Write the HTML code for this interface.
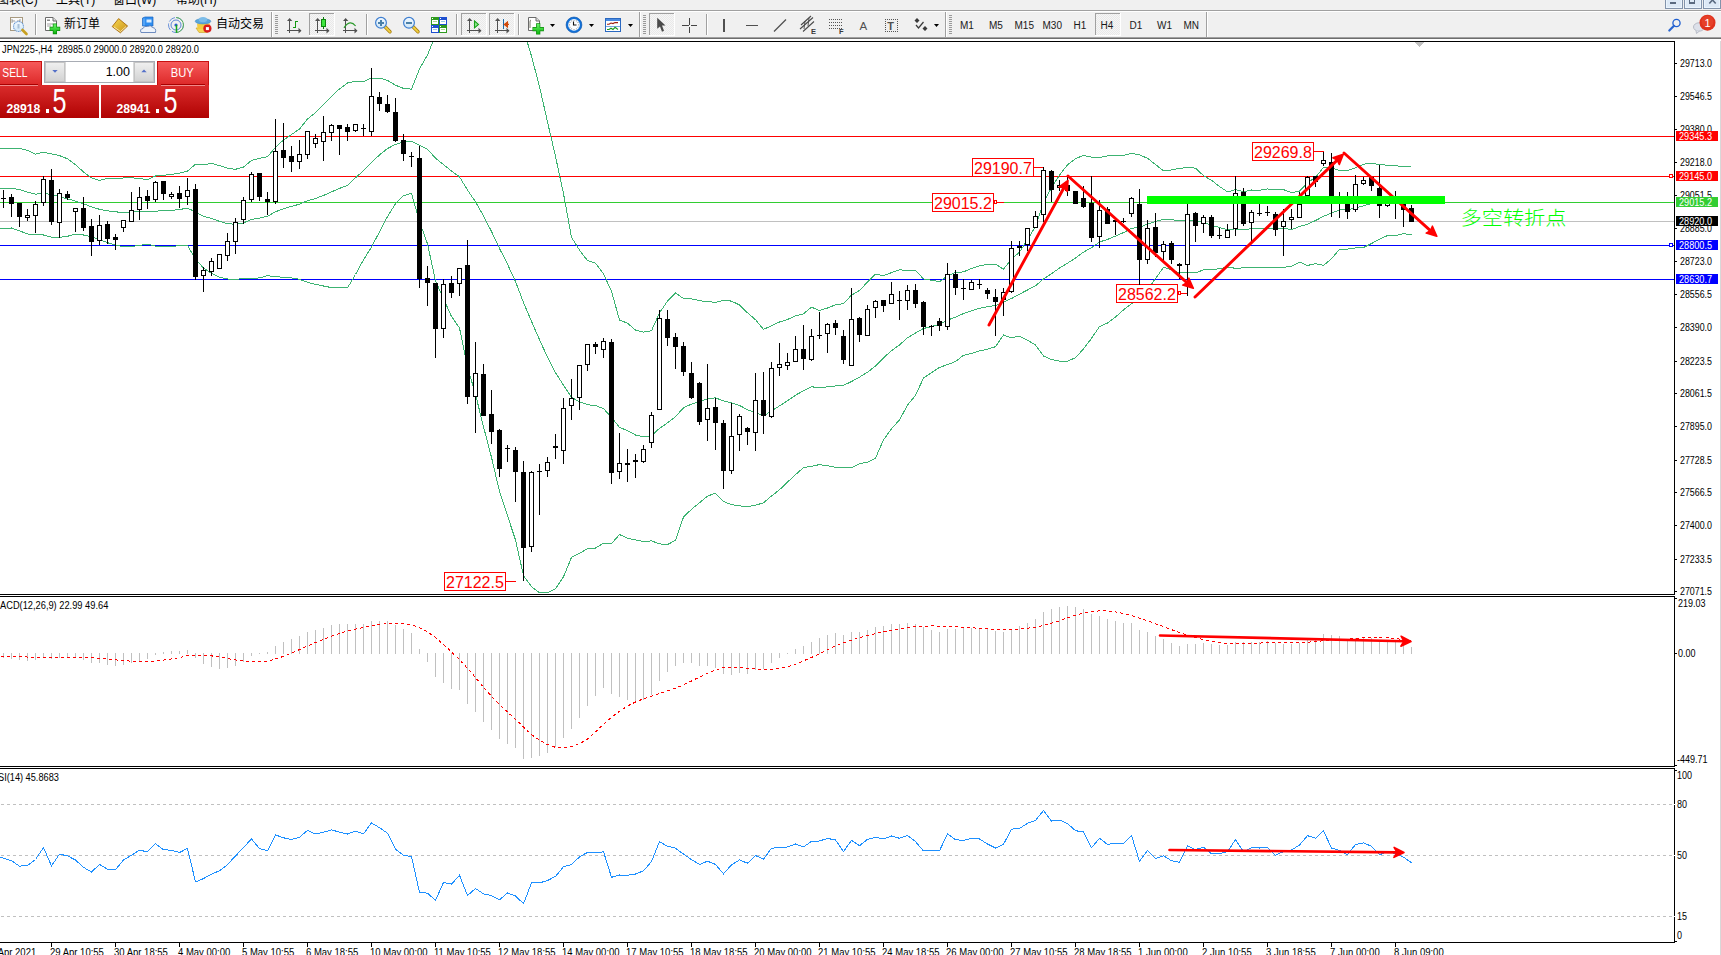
<!DOCTYPE html>
<html><head><meta charset="utf-8"><title>MT4 JPN225 H4</title>
<style>
html,body{margin:0;padding:0;width:1721px;height:955px;overflow:hidden;background:#f0f0f0;}
svg{display:block;font-family:'Liberation Sans', 'Noto Sans CJK SC', sans-serif;}
</style></head>
<body>
<svg width="1721" height="955" viewBox="0 0 1721 955" shape-rendering="crispEdges">
<rect x="0" y="0" width="1721" height="41" fill="#f0f0f0"/>
<text x="-3" y="4.2" font-size="12" fill="#000">图表(C)</text>
<text x="56" y="4.2" font-size="12" fill="#000">工具(T)</text>
<text x="113" y="4.2" font-size="12" fill="#000">窗口(W)</text>
<text x="176" y="4.2" font-size="12" fill="#000">帮助(H)</text>
<rect x="1665.5" y="-3.5" width="17" height="12" fill="#dde9f6" stroke="#8293ab"/><rect x="1666.5" y="-2.5" width="15" height="10" fill="none" stroke="#eef6ff" stroke-width="0.8"/>
<rect x="1684.5" y="-3.5" width="17" height="12" fill="#dde9f6" stroke="#8293ab"/><rect x="1685.5" y="-2.5" width="15" height="10" fill="none" stroke="#eef6ff" stroke-width="0.8"/>
<rect x="1703.5" y="-3.5" width="17" height="12" fill="#dde9f6" stroke="#8293ab"/><rect x="1704.5" y="-2.5" width="15" height="10" fill="none" stroke="#eef6ff" stroke-width="0.8"/>
<rect x="1670" y="2" width="6" height="2" fill="#5a6a80"/>
<rect x="1689.5" y="-1.5" width="5" height="4.5" fill="none" stroke="#5a6a80" stroke-width="1.3"/><rect x="1696" y="-1" width="1" height="1" fill="#5a6a80"/>
<path d="M1709.3 3.5 L1712.5 0 L1715.7 3.5" stroke="#5a6a80" stroke-width="1.6" fill="none" shape-rendering="auto"/>
<rect x="0" y="10" width="1721" height="1" fill="#a0a0a0"/>
<rect x="0" y="11" width="1721" height="1" fill="#ffffff"/>
<rect x="0" y="37" width="1721" height="1" fill="#a0a0a0"/>
<rect x="0" y="38" width="1721" height="1" fill="#6d6d6d"/>
<rect x="0" y="39" width="1721" height="2" fill="#ffffff"/>
<defs><pattern id="chk" width="2" height="2" patternUnits="userSpaceOnUse"><rect width="2" height="2" fill="#f6f6f6"/><rect width="1" height="1" fill="#e9e9e9"/><rect x="1" y="1" width="1" height="1" fill="#e9e9e9"/></pattern><linearGradient id="gmag" x1="0" y1="0" x2="0" y2="1"><stop offset="0" stop-color="#f2f9ff"/><stop offset="1" stop-color="#cfe6f7"/></linearGradient><linearGradient id="ggold" x1="0" y1="0" x2="1" y2="1"><stop offset="0" stop-color="#f8d850"/><stop offset="1" stop-color="#c89018"/></linearGradient><linearGradient id="gplus" x1="0" y1="0" x2="0" y2="1"><stop offset="0" stop-color="#6af56a"/><stop offset="1" stop-color="#0cb40c"/></linearGradient></defs>
<g shape-rendering="auto"><rect x="10.5" y="17.5" width="12" height="13" fill="#fbfbfb" stroke="#a89a80"/><path d="M12 19 V23 M12 21 H15 M20 19 V23 M17 21 H20" stroke="#888" stroke-width="0.8"/><circle cx="18.5" cy="26.5" r="5" fill="url(#gmag)" stroke="#6d9bd3" stroke-width="1.1" stroke-dasharray="1.2 0.6"/><rect x="17.5" y="24" width="2" height="4.5" fill="#a8c0d8"/><path d="M22.5 30 L26.5 34" stroke="#c8a020" stroke-width="2.6" stroke-linecap="round"/><path d="M45.5 17.5 H53 L56.5 21 V30.5 H45.5 Z" fill="#fff" stroke="#6a6a6a"/><path d="M53 17.5 V21 H56.5" fill="#ddd" stroke="#6a6a6a"/><rect x="47" y="19.5" width="3" height="1.5" fill="#888"/><path d="M47 24 H53 M47 26 H51" stroke="#999" stroke-width="0.9"/><path d="M54.9 23.6 V34.2 M49.6 28.9 H60.2" stroke="#0a8a0a" stroke-width="4.2"/><path d="M54.9 24.2 V33.6 M50.2 28.9 H59.6" stroke="url(#gplus)" stroke-width="2.8"/><path d="M112.2 26.6 L118.6 18.6 L127.6 26 L120.4 32.8 Z" fill="url(#ggold)" stroke="#a86c10" stroke-width="0.9"/><path d="M114 27 L120.5 31.5 L126 26.5" fill="none" stroke="#fff3c0" stroke-width="0.8"/><path d="M142.5 18 L145 17 H153 V26 H142.5 Z" fill="#2f8ef0" stroke="#1a64c0" stroke-width="0.7"/><rect x="146.5" y="19.5" width="5" height="3" fill="#d8ecff"/><path d="M144 18.5 V25.5" stroke="#8cc4ff" stroke-width="0.8"/><path d="M141 32.5 Q139.5 29 143 28.5 Q144 25.5 147.5 26.5 Q150.5 24.5 152.5 27.5 Q156.5 28 155.5 32.5 Z" fill="#eef3fa" stroke="#5d7fb8" stroke-width="0.9"/><circle cx="176" cy="25" r="7.5" fill="none" stroke="#5a86d6" stroke-width="0.9" stroke-dasharray="7 2"/><circle cx="176" cy="25" r="5" fill="none" stroke="#4a7ad0" stroke-width="0.9"/><path d="M176 17.5 A7.5 7.5 0 0 1 176 32.5" fill="none" stroke="#58b058" stroke-width="1"/><circle cx="176" cy="25" r="1.6" fill="#2a5ed0"/><path d="M176.5 25 V32.8" stroke="#18a818" stroke-width="1.5"/><path d="M196 28 L210 28 L207 32.5 L199 32.5 Z" fill="#f6d454" stroke="#c8a020" stroke-width="0.6"/><path d="M197 23.5 L210 23.5 L209.5 29 L197.5 29 Z" fill="#f2cc40"/><ellipse cx="203" cy="21.3" rx="7.8" ry="2.6" fill="#5aa6dc" stroke="#3a86c0" stroke-width="0.6"/><ellipse cx="203" cy="19.6" rx="4.2" ry="2.6" fill="#7cbce8"/><circle cx="207.4" cy="28.6" r="4.1" fill="#d81c1c"/><rect x="205.9" y="27.1" width="3" height="3" fill="#fff"/></g>
<text x="64" y="28" font-size="12" font-family="'Liberation Sans', 'Noto Sans CJK SC', sans-serif" fill="#000">新订单</text>
<text x="216" y="28" font-size="12" font-family="'Liberation Sans', 'Noto Sans CJK SC', sans-serif" fill="#000">自动交易</text>
<rect x="35" y="14" width="1" height="21" fill="#a0a0a0"/>
<rect x="36" y="14" width="1" height="21" fill="#ffffff"/>
<rect x="271" y="12" width="1" height="25" fill="#a0a0a0"/>
<rect x="272" y="12" width="1" height="25" fill="#ffffff"/>
<rect x="275" y="15" width="3" height="1" fill="#9a9a9a"/>
<rect x="275" y="17" width="3" height="1" fill="#9a9a9a"/>
<rect x="275" y="19" width="3" height="1" fill="#9a9a9a"/>
<rect x="275" y="21" width="3" height="1" fill="#9a9a9a"/>
<rect x="275" y="23" width="3" height="1" fill="#9a9a9a"/>
<rect x="275" y="25" width="3" height="1" fill="#9a9a9a"/>
<rect x="275" y="27" width="3" height="1" fill="#9a9a9a"/>
<rect x="275" y="29" width="3" height="1" fill="#9a9a9a"/>
<rect x="275" y="31" width="3" height="1" fill="#9a9a9a"/>
<rect x="275" y="33" width="3" height="1" fill="#9a9a9a"/>
<g fill="#505050"><rect x="289" y="19" width="1.3" height="14"/><rect x="287" y="30" width="14" height="1.3"/><path d="M287 21 L289.65 18 L292.3 21 Z M298.5 27.7 L301.5 30.65 L298.5 33.6 Z" shape-rendering="auto"/></g>
<path d="M293 27.5 H295.5 V20.5 M295.5 21.5 H298" stroke="#139a13" stroke-width="1.3" fill="none"/>
<rect x="309" y="13" width="25" height="22" fill="url(#chk)"/>
<rect x="309" y="13" width="25" height="1" fill="#a0a0a0"/>
<rect x="309" y="13" width="1" height="22" fill="#a0a0a0"/>
<rect x="309" y="35" width="25" height="1" fill="#ffffff"/>
<rect x="334" y="13" width="1" height="23" fill="#ffffff"/>
<g fill="#505050"><rect x="317" y="19" width="1.3" height="14"/><rect x="315" y="30" width="14" height="1.3"/><path d="M315 21 L317.65 18 L320.3 21 Z M326.5 27.7 L329.5 30.65 L326.5 33.6 Z" shape-rendering="auto"/></g>
<rect x="323" y="17" width="1" height="12" fill="#0a7a0a"/><rect x="321.3" y="19.2" width="4.4" height="7.5" fill="#3ee63e" stroke="#0a7a0a" stroke-width="0.9"/>
<g fill="#505050"><rect x="345" y="19" width="1.3" height="14"/><rect x="343" y="30" width="14" height="1.3"/><path d="M343 21 L345.65 18 L348.3 21 Z M354.5 27.7 L357.5 30.65 L354.5 33.6 Z" shape-rendering="auto"/></g>
<path d="M344 27.8 Q350 19 355.6 26" stroke="#2a9a2a" stroke-width="1.2" fill="none" shape-rendering="auto"/>
<rect x="366" y="14" width="1" height="21" fill="#a0a0a0"/>
<rect x="367" y="14" width="1" height="21" fill="#ffffff"/>
<g shape-rendering="auto"><path d="M384.8 26.5 L390 31.8" stroke="#a87c10" stroke-width="3.4" stroke-linecap="round"/><path d="M384.8 26.5 L390 31.8" stroke="#f0d040" stroke-width="1.8" stroke-linecap="round"/><circle cx="381" cy="22.8" r="5.4" fill="url(#gmag)" stroke="#3f7fd0" stroke-width="1.2"/></g>
<rect x="378" y="22" width="6" height="2" fill="#4a80a8"/>
<rect x="380" y="20" width="2" height="6" fill="#4a80a8"/>
<g shape-rendering="auto"><path d="M412.8 26.5 L418 31.8" stroke="#a87c10" stroke-width="3.4" stroke-linecap="round"/><path d="M412.8 26.5 L418 31.8" stroke="#f0d040" stroke-width="1.8" stroke-linecap="round"/><circle cx="409" cy="22.8" r="5.4" fill="url(#gmag)" stroke="#3f7fd0" stroke-width="1.2"/></g>
<rect x="406" y="22" width="6" height="2" fill="#4a80a8"/>
<rect x="431" y="17" width="8" height="8" fill="#2e9a1e"/>
<rect x="432" y="20" width="6" height="4" fill="#ffffff"/>
<rect x="432" y="18" width="1" height="1" fill="#ffffff"/>
<rect x="433" y="21" width="4" height="1" fill="#a8d890"/>
<rect x="439" y="17" width="8" height="8" fill="#1e4fd0"/>
<rect x="440" y="20" width="6" height="4" fill="#ffffff"/>
<rect x="440" y="18" width="1" height="1" fill="#ffffff"/>
<rect x="441" y="21" width="4" height="1" fill="#9ac8e8"/>
<rect x="431" y="25" width="8" height="8" fill="#1e4fd0"/>
<rect x="432" y="28" width="6" height="4" fill="#ffffff"/>
<rect x="432" y="26" width="1" height="1" fill="#ffffff"/>
<rect x="433" y="29" width="4" height="1" fill="#9ac8e8"/>
<rect x="439" y="25" width="8" height="8" fill="#2e9a1e"/>
<rect x="440" y="28" width="6" height="4" fill="#ffffff"/>
<rect x="440" y="26" width="1" height="1" fill="#ffffff"/>
<rect x="441" y="29" width="4" height="1" fill="#a8d890"/>
<rect x="456" y="14" width="1" height="21" fill="#a0a0a0"/>
<rect x="457" y="14" width="1" height="21" fill="#ffffff"/>
<rect x="461" y="13" width="25" height="22" fill="url(#chk)"/>
<rect x="461" y="13" width="25" height="1" fill="#a0a0a0"/>
<rect x="461" y="13" width="1" height="22" fill="#a0a0a0"/>
<rect x="461" y="35" width="25" height="1" fill="#ffffff"/>
<rect x="486" y="13" width="1" height="23" fill="#ffffff"/>
<g fill="#505050"><rect x="469" y="19" width="1.3" height="14"/><rect x="467" y="30" width="14" height="1.3"/><path d="M467 21 L469.65 18 L472.3 21 Z M478.5 27.7 L481.5 30.65 L478.5 33.6 Z" shape-rendering="auto"/></g>
<path d="M474.5 21 L478.5 24.4 L474.5 27.8 Z" fill="#8ce88c" stroke="#18a018" stroke-width="1.1" shape-rendering="auto"/>
<rect x="489" y="13" width="25" height="22" fill="url(#chk)"/>
<rect x="489" y="13" width="25" height="1" fill="#a0a0a0"/>
<rect x="489" y="13" width="1" height="22" fill="#a0a0a0"/>
<rect x="489" y="35" width="25" height="1" fill="#ffffff"/>
<rect x="514" y="13" width="1" height="23" fill="#ffffff"/>
<g fill="#505050"><rect x="497" y="19" width="1.3" height="14"/><rect x="495" y="30" width="14" height="1.3"/><path d="M495 21 L497.65 18 L500.3 21 Z M506.5 27.7 L509.5 30.65 L506.5 33.6 Z" shape-rendering="auto"/></g>
<rect x="503" y="19" width="1.4" height="10" fill="#1a6aa8"/>
<path d="M509 24.4 H506 M504.4 24.4 L507.4 22 L507.4 26.8 Z" stroke="#d04808" stroke-width="1.3" fill="#e05010" shape-rendering="auto"/>
<rect x="518" y="14" width="1" height="21" fill="#a0a0a0"/>
<rect x="519" y="14" width="1" height="21" fill="#ffffff"/>
<g shape-rendering="auto"><path d="M528.5 17.5 H536 L539.5 21 V30.5 H528.5 Z" fill="#fff" stroke="#6a6a6a"/><path d="M536 17.5 V21 H539.5" fill="#ddd" stroke="#6a6a6a"/><path d="M531 20 Q530 20 530 22 V28" stroke="#665" stroke-width="0.9" fill="none"/><path d="M538.2 23.3 V34.6 M532.5 29.1 H543.9" stroke="#0a8a0a" stroke-width="4.2"/><path d="M538.2 23.9 V34 M533.1 29.1 H543.3" stroke="url(#gplus)" stroke-width="2.8"/></g>
<path d="M550 24 H555 L552.5 27 Z" fill="#000" shape-rendering="auto"/>
<g shape-rendering="auto"><circle cx="574" cy="24.9" r="6.9" fill="#fbfdff" stroke="#1070d8" stroke-width="2.1"/><circle cx="574" cy="24.9" r="7.9" fill="none" stroke="#0850a8" stroke-width="0.6"/><path d="M573.5 21.5 V25 H576.5" stroke="#111" stroke-width="1.1" fill="none"/></g>
<rect x="578.2" y="24.5" width="0.8" height="0.8" fill="#666" shape-rendering="auto"/>
<rect x="577.6" y="26.8" width="0.8" height="0.8" fill="#666" shape-rendering="auto"/>
<rect x="575.9" y="28.5" width="0.8" height="0.8" fill="#666" shape-rendering="auto"/>
<rect x="573.6" y="29.1" width="0.8" height="0.8" fill="#666" shape-rendering="auto"/>
<rect x="571.3" y="28.5" width="0.8" height="0.8" fill="#666" shape-rendering="auto"/>
<rect x="569.6" y="26.8" width="0.8" height="0.8" fill="#666" shape-rendering="auto"/>
<rect x="569.0" y="24.5" width="0.8" height="0.8" fill="#666" shape-rendering="auto"/>
<rect x="569.6" y="22.2" width="0.8" height="0.8" fill="#666" shape-rendering="auto"/>
<rect x="571.3" y="20.5" width="0.8" height="0.8" fill="#666" shape-rendering="auto"/>
<rect x="573.6" y="19.9" width="0.8" height="0.8" fill="#666" shape-rendering="auto"/>
<rect x="575.9" y="20.5" width="0.8" height="0.8" fill="#666" shape-rendering="auto"/>
<rect x="577.6" y="22.2" width="0.8" height="0.8" fill="#666" shape-rendering="auto"/>
<path d="M589 24 H594 L591.5 27 Z" fill="#000" shape-rendering="auto"/>
<rect x="605.5" y="18.5" width="15" height="13" fill="#fff" stroke="#2a68c0"/><rect x="606" y="19" width="14" height="2" fill="#4a8ae0"/><rect x="606" y="26" width="14" height="1" fill="#7aa8e0"/><g shape-rendering="auto"><path d="M607 24.3 L609 24.3 L611 23 L613 23.6 L615 22.6 L618 22.6" stroke="#a02010" stroke-width="1.1" fill="none"/><path d="M607 29.5 L609 29.5 L611 28.2 L613 29.5 L615 27.3 L618 29.5" stroke="#18981a" stroke-width="1.1" fill="none"/></g>
<path d="M628 24 H633 L630.5 27 Z" fill="#000" shape-rendering="auto"/>
<rect x="639" y="12" width="1" height="25" fill="#a0a0a0"/>
<rect x="640" y="12" width="1" height="25" fill="#ffffff"/>
<rect x="643" y="15" width="3" height="1" fill="#9a9a9a"/>
<rect x="643" y="17" width="3" height="1" fill="#9a9a9a"/>
<rect x="643" y="19" width="3" height="1" fill="#9a9a9a"/>
<rect x="643" y="21" width="3" height="1" fill="#9a9a9a"/>
<rect x="643" y="23" width="3" height="1" fill="#9a9a9a"/>
<rect x="643" y="25" width="3" height="1" fill="#9a9a9a"/>
<rect x="643" y="27" width="3" height="1" fill="#9a9a9a"/>
<rect x="643" y="29" width="3" height="1" fill="#9a9a9a"/>
<rect x="643" y="31" width="3" height="1" fill="#9a9a9a"/>
<rect x="643" y="33" width="3" height="1" fill="#9a9a9a"/>
<rect x="649" y="13" width="25" height="22" fill="url(#chk)"/>
<rect x="649" y="13" width="25" height="1" fill="#a0a0a0"/>
<rect x="649" y="13" width="1" height="22" fill="#a0a0a0"/>
<rect x="649" y="35" width="25" height="1" fill="#ffffff"/>
<rect x="674" y="13" width="1" height="23" fill="#ffffff"/>
<path d="M657.2 17.8 V28.8 L660 26.4 L662 31.7 L664 30.8 L662 25.6 L665.5 25.4 Z" fill="#4a4a4a" shape-rendering="auto"/>
<rect x="689" y="18" width="1.3" height="6.5" fill="#444"/>
<rect x="689" y="26.5" width="1.3" height="6.5" fill="#444"/>
<rect x="682" y="24.8" width="6.5" height="1.3" fill="#444"/>
<rect x="690.5" y="24.8" width="6.5" height="1.3" fill="#444"/>
<rect x="706" y="14" width="1" height="21" fill="#a0a0a0"/>
<rect x="707" y="14" width="1" height="21" fill="#ffffff"/>
<rect x="723" y="19" width="1.5" height="13" fill="#505050"/>
<rect x="746" y="25" width="12" height="1.3" fill="#505050"/>
<path d="M774 31.5 L786 19.5" stroke="#505050" stroke-width="1.3" shape-rendering="auto"/>
<g shape-rendering="auto" stroke="#4a4a4a" stroke-width="1.1"><path d="M800 29 L813 17.5 M801 25 L811 16 M803 31.5 L814 21.5"/><path d="M805 21 L804 29 M809 18 L808 26" stroke-width="0.9"/></g>
<text x="811" y="34" font-size="7.5" font-weight="bold" font-family="'Liberation Sans', 'Noto Sans CJK SC', sans-serif" fill="#3a3a3a">E</text>
<rect x="829" y="19" width="1" height="1" fill="#555"/>
<rect x="831" y="19" width="1" height="1" fill="#555"/>
<rect x="833" y="19" width="1" height="1" fill="#555"/>
<rect x="835" y="19" width="1" height="1" fill="#555"/>
<rect x="837" y="19" width="1" height="1" fill="#555"/>
<rect x="839" y="19" width="1" height="1" fill="#555"/>
<rect x="841" y="19" width="1" height="1" fill="#555"/>
<rect x="829" y="22" width="1" height="1" fill="#555"/>
<rect x="831" y="22" width="1" height="1" fill="#555"/>
<rect x="833" y="22" width="1" height="1" fill="#555"/>
<rect x="835" y="22" width="1" height="1" fill="#555"/>
<rect x="837" y="22" width="1" height="1" fill="#555"/>
<rect x="839" y="22" width="1" height="1" fill="#555"/>
<rect x="841" y="22" width="1" height="1" fill="#555"/>
<rect x="829" y="25" width="1" height="1" fill="#555"/>
<rect x="831" y="25" width="1" height="1" fill="#555"/>
<rect x="833" y="25" width="1" height="1" fill="#555"/>
<rect x="835" y="25" width="1" height="1" fill="#555"/>
<rect x="837" y="25" width="1" height="1" fill="#555"/>
<rect x="839" y="25" width="1" height="1" fill="#555"/>
<rect x="841" y="25" width="1" height="1" fill="#555"/>
<rect x="829" y="28" width="1" height="1" fill="#555"/>
<rect x="831" y="28" width="1" height="1" fill="#555"/>
<rect x="833" y="28" width="1" height="1" fill="#555"/>
<rect x="835" y="28" width="1" height="1" fill="#555"/>
<rect x="837" y="28" width="1" height="1" fill="#555"/>
<rect x="839" y="28" width="1" height="1" fill="#555"/>
<rect x="841" y="28" width="1" height="1" fill="#555"/>
<text x="839" y="34" font-size="7.5" font-weight="bold" font-family="'Liberation Sans', 'Noto Sans CJK SC', sans-serif" fill="#3a3a3a">F</text>
<text x="859.5" y="29.5" font-size="11.5" font-family="'Liberation Sans', 'Noto Sans CJK SC', sans-serif" fill="#505050">A</text>
<rect x="885" y="19" width="1" height="1" fill="#555"/>
<rect x="885" y="31" width="1" height="1" fill="#555"/>
<rect x="887" y="19" width="1" height="1" fill="#555"/>
<rect x="887" y="31" width="1" height="1" fill="#555"/>
<rect x="889" y="19" width="1" height="1" fill="#555"/>
<rect x="889" y="31" width="1" height="1" fill="#555"/>
<rect x="891" y="19" width="1" height="1" fill="#555"/>
<rect x="891" y="31" width="1" height="1" fill="#555"/>
<rect x="893" y="19" width="1" height="1" fill="#555"/>
<rect x="893" y="31" width="1" height="1" fill="#555"/>
<rect x="895" y="19" width="1" height="1" fill="#555"/>
<rect x="895" y="31" width="1" height="1" fill="#555"/>
<rect x="897" y="19" width="1" height="1" fill="#555"/>
<rect x="897" y="31" width="1" height="1" fill="#555"/>
<rect x="885" y="19" width="1" height="1" fill="#555"/>
<rect x="897" y="19" width="1" height="1" fill="#555"/>
<rect x="885" y="21" width="1" height="1" fill="#555"/>
<rect x="897" y="21" width="1" height="1" fill="#555"/>
<rect x="885" y="23" width="1" height="1" fill="#555"/>
<rect x="897" y="23" width="1" height="1" fill="#555"/>
<rect x="885" y="25" width="1" height="1" fill="#555"/>
<rect x="897" y="25" width="1" height="1" fill="#555"/>
<rect x="885" y="27" width="1" height="1" fill="#555"/>
<rect x="897" y="27" width="1" height="1" fill="#555"/>
<rect x="885" y="29" width="1" height="1" fill="#555"/>
<rect x="897" y="29" width="1" height="1" fill="#555"/>
<rect x="885" y="31" width="1" height="1" fill="#555"/>
<rect x="897" y="31" width="1" height="1" fill="#555"/>
<text x="887.3" y="29.8" font-size="11" font-weight="bold" font-family="'Liberation Sans', 'Noto Sans CJK SC', sans-serif" fill="#505050">T</text>
<g shape-rendering="auto"><path d="M914.5 20.5 L917 18 L919.5 20.5 L917 23 Z M922.5 28.5 L925 26 L927.5 28.5 L925 31 Z" fill="#3a3a3a"/><path d="M916 25 L918.5 28 L923.5 22" stroke="#3a3a3a" stroke-width="1.2" fill="none"/></g>
<path d="M934 24 H939 L936.5 27 Z" fill="#000" shape-rendering="auto"/>
<rect x="945" y="12" width="1" height="25" fill="#a0a0a0"/>
<rect x="946" y="12" width="1" height="25" fill="#ffffff"/>
<rect x="949" y="15" width="3" height="1" fill="#9a9a9a"/>
<rect x="949" y="17" width="3" height="1" fill="#9a9a9a"/>
<rect x="949" y="19" width="3" height="1" fill="#9a9a9a"/>
<rect x="949" y="21" width="3" height="1" fill="#9a9a9a"/>
<rect x="949" y="23" width="3" height="1" fill="#9a9a9a"/>
<rect x="949" y="25" width="3" height="1" fill="#9a9a9a"/>
<rect x="949" y="27" width="3" height="1" fill="#9a9a9a"/>
<rect x="949" y="29" width="3" height="1" fill="#9a9a9a"/>
<rect x="949" y="31" width="3" height="1" fill="#9a9a9a"/>
<rect x="949" y="33" width="3" height="1" fill="#9a9a9a"/>
<rect x="1095" y="13" width="25" height="22" fill="url(#chk)"/>
<rect x="1095" y="13" width="25" height="1" fill="#a0a0a0"/>
<rect x="1095" y="13" width="1" height="22" fill="#a0a0a0"/>
<rect x="1095" y="35" width="25" height="1" fill="#ffffff"/>
<rect x="1120" y="13" width="1" height="23" fill="#ffffff"/>
<text x="960" y="29" font-size="10" font-family="'Liberation Sans', 'Noto Sans CJK SC', sans-serif" fill="#1a1a1a">M1</text>
<text x="989" y="29" font-size="10" font-family="'Liberation Sans', 'Noto Sans CJK SC', sans-serif" fill="#1a1a1a">M5</text>
<text x="1014.5" y="29" font-size="10" font-family="'Liberation Sans', 'Noto Sans CJK SC', sans-serif" fill="#1a1a1a">M15</text>
<text x="1042.5" y="29" font-size="10" font-family="'Liberation Sans', 'Noto Sans CJK SC', sans-serif" fill="#1a1a1a">M30</text>
<text x="1073.5" y="29" font-size="10" font-family="'Liberation Sans', 'Noto Sans CJK SC', sans-serif" fill="#1a1a1a">H1</text>
<text x="1100.5" y="29" font-size="10" font-family="'Liberation Sans', 'Noto Sans CJK SC', sans-serif" fill="#1a1a1a">H4</text>
<text x="1129.5" y="29" font-size="10" font-family="'Liberation Sans', 'Noto Sans CJK SC', sans-serif" fill="#1a1a1a">D1</text>
<text x="1157" y="29" font-size="10" font-family="'Liberation Sans', 'Noto Sans CJK SC', sans-serif" fill="#1a1a1a">W1</text>
<text x="1183.5" y="29" font-size="10" font-family="'Liberation Sans', 'Noto Sans CJK SC', sans-serif" fill="#1a1a1a">MN</text>
<rect x="1206" y="12" width="1" height="25" fill="#a0a0a0"/>
<rect x="1207" y="12" width="1" height="25" fill="#ffffff"/>
<g shape-rendering="auto"><circle cx="1676.5" cy="23" r="3.6" fill="none" stroke="#1f5fd0" stroke-width="1.3"/><path d="M1674 25.8 L1669.3 30.5" stroke="#2a66d0" stroke-width="2.2" stroke-linecap="round"/><ellipse cx="1699" cy="27" rx="5.5" ry="4.2" fill="#dde1ea" stroke="#b8bcc6"/><path d="M1696 30.5 L1696.5 33.5 L1699.5 31" fill="#dde1ea" stroke="#b8bcc6"/><circle cx="1707.5" cy="22.7" r="8" fill="#e0321c"/><circle cx="1707.5" cy="21.5" r="6" fill="#ea4a30" opacity="0.6"/></g>
<text x="1704.5" y="27.2" font-size="11" font-family="'Liberation Sans', 'Noto Sans CJK SC', sans-serif" fill="#fff">1</text>
<rect x="0" y="41" width="1720" height="914" fill="#ffffff"/>
<rect x="1720" y="41" width="1" height="914" fill="#d8d8d8"/>
<defs><clipPath id="cm"><rect x="0" y="42" width="1674" height="552"/></clipPath><clipPath id="cd"><rect x="0" y="597" width="1674" height="169"/></clipPath><clipPath id="cr"><rect x="0" y="769" width="1674" height="173"/></clipPath></defs>
<rect x="0" y="136" width="1674" height="1" fill="#ff0000"/>
<rect x="0" y="176" width="1674" height="1" fill="#ff0000"/>
<rect x="1669.5" y="174.5" width="3" height="3" fill="#fff" stroke="#ff0000"/>
<rect x="0" y="202" width="1674" height="1" fill="#32cd32"/>
<rect x="0" y="221" width="1674" height="1" fill="#c0c0c0"/>
<rect x="0" y="245" width="1674" height="1" fill="#0000ff"/>
<rect x="1669.5" y="243.5" width="3" height="3" fill="#fff" stroke="#0000ff"/>
<rect x="0" y="279" width="1674" height="1" fill="#0000ff"/>
<polyline points="-4.5,148.5 3.5,148.5 11.5,148.5 19.5,148.5 27.5,150.3 35.5,154.1 43.5,152.3 51.5,153.9 59.5,155.6 67.5,158.8 75.5,164.8 83.5,171.9 91.5,177.9 99.5,180.4 107.5,178.3 115.5,178.2 123.5,178.0 131.5,177.8 139.5,178.5 147.5,179.6 155.5,176.0 163.5,175.4 171.5,174.3 179.5,173.2 187.5,171.1 195.5,164.3 203.5,164.9 211.5,163.4 219.5,165.6 227.5,168.2 235.5,169.3 243.5,167.0 251.5,160.5 259.5,158.3 267.5,156.8 275.5,147.1 283.5,140.0 291.5,134.6 299.5,129.0 307.5,119.0 315.5,112.7 323.5,104.8 331.5,96.3 339.5,88.9 347.5,83.0 355.5,81.2 363.5,81.7 371.5,78.0 379.5,78.0 387.5,80.4 395.5,85.2 403.5,88.4 411.5,89.1 419.5,68.9 427.5,54.9 435.5,35.6 443.5,30.2 451.5,25.7 459.5,25.6 467.5,12.9 475.5,9.5 483.5,5.3 491.5,5.4 499.5,5.3 507.5,12.5 515.5,23.1 523.5,29.5 531.5,56.1 539.5,86.7 547.5,121.9 555.5,156.5 563.5,193.7 571.5,237.3 579.5,250.1 587.5,260.6 595.5,263.3 603.5,273.9 611.5,291.3 619.5,320.0 627.5,323.2 635.5,330.1 643.5,332.1 651.5,330.8 659.5,312.8 667.5,301.2 675.5,292.8 683.5,298.6 691.5,298.9 699.5,300.6 707.5,301.7 715.5,302.3 723.5,300.3 731.5,301.1 739.5,305.0 747.5,312.8 755.5,319.7 763.5,329.4 771.5,325.7 779.5,322.0 787.5,319.5 795.5,315.8 803.5,313.8 811.5,307.2 819.5,310.6 827.5,308.0 835.5,304.8 843.5,303.6 851.5,295.1 859.5,290.5 867.5,282.0 875.5,274.1 883.5,275.7 891.5,272.6 899.5,269.8 907.5,270.5 915.5,270.5 923.5,278.9 931.5,280.2 939.5,281.7 947.5,275.7 955.5,272.5 963.5,271.9 971.5,268.4 979.5,265.8 987.5,264.4 995.5,264.2 1003.5,269.2 1011.5,259.2 1019.5,252.1 1027.5,239.7 1035.5,226.5 1043.5,202.0 1051.5,187.9 1059.5,175.0 1067.5,164.9 1075.5,158.6 1083.5,155.4 1091.5,157.1 1099.5,157.4 1107.5,155.9 1115.5,155.1 1123.5,155.3 1131.5,153.3 1139.5,154.9 1147.5,158.3 1155.5,164.5 1163.5,170.9 1171.5,169.9 1179.5,168.3 1187.5,167.6 1195.5,168.1 1203.5,175.7 1211.5,180.3 1219.5,186.5 1227.5,191.9 1235.5,189.6 1243.5,191.8 1251.5,190.0 1259.5,190.3 1267.5,189.0 1275.5,189.7 1283.5,189.6 1291.5,192.6 1299.5,191.1 1307.5,182.6 1315.5,177.5 1323.5,167.2 1331.5,167.5 1339.5,170.7 1347.5,170.6 1355.5,167.7 1363.5,164.2 1371.5,163.3 1379.5,164.5 1387.5,165.2 1395.5,165.8 1403.5,166.5 1411.5,166.0" fill="none" stroke="#3cb371" stroke-width="1" clip-path="url(#cm)"/>
<polyline points="-4.5,188.1 3.5,188.1 11.5,188.1 19.5,189.6 27.5,192.1 35.5,194.2 43.5,193.4 51.5,194.5 59.5,196.8 67.5,198.8 75.5,201.1 83.5,203.8 91.5,206.8 99.5,209.3 107.5,210.8 115.5,211.8 123.5,212.6 131.5,212.0 139.5,211.9 147.5,211.7 155.5,211.1 163.5,210.8 171.5,210.4 179.5,209.5 187.5,208.2 195.5,211.9 203.5,216.4 211.5,218.4 219.5,221.4 227.5,223.6 235.5,224.3 243.5,222.9 251.5,219.5 259.5,218.1 267.5,216.2 275.5,211.8 283.5,208.7 291.5,206.3 299.5,204.2 307.5,200.7 315.5,198.5 323.5,195.4 331.5,191.9 339.5,188.4 347.5,185.5 355.5,177.8 363.5,170.7 371.5,162.5 379.5,154.9 387.5,148.5 395.5,144.4 403.5,142.1 411.5,141.2 419.5,145.3 427.5,149.3 435.5,158.2 443.5,164.5 451.5,171.1 459.5,176.8 467.5,190.1 475.5,201.8 483.5,216.0 491.5,231.4 499.5,248.4 507.5,264.2 515.5,281.5 523.5,302.6 531.5,321.4 539.5,339.7 547.5,357.3 555.5,372.6 563.5,385.2 571.5,397.4 579.5,401.7 587.5,404.7 595.5,405.6 603.5,408.5 611.5,417.5 619.5,427.3 627.5,430.7 635.5,435.0 643.5,436.7 651.5,435.9 659.5,428.3 667.5,422.9 675.5,416.6 683.5,407.8 691.5,404.1 699.5,401.6 707.5,398.9 715.5,397.8 723.5,400.9 731.5,402.8 739.5,405.4 747.5,409.7 755.5,412.4 763.5,416.1 771.5,410.9 779.5,405.9 787.5,400.8 795.5,395.2 803.5,390.7 811.5,386.8 819.5,387.6 827.5,386.9 835.5,386.0 843.5,385.4 851.5,381.5 859.5,377.1 867.5,372.2 875.5,366.1 883.5,357.8 891.5,350.7 899.5,344.9 907.5,337.8 915.5,333.0 923.5,328.5 931.5,326.5 939.5,324.5 947.5,320.1 955.5,317.1 963.5,313.6 971.5,310.9 979.5,308.3 987.5,306.8 995.5,305.5 1003.5,302.1 1011.5,298.5 1019.5,294.1 1027.5,290.0 1035.5,285.7 1043.5,279.0 1051.5,273.8 1059.5,268.0 1067.5,263.1 1075.5,258.1 1083.5,252.1 1091.5,247.7 1099.5,242.0 1107.5,239.4 1115.5,236.1 1123.5,232.6 1131.5,228.4 1139.5,227.3 1147.5,224.0 1155.5,221.6 1163.5,219.1 1171.5,219.7 1179.5,220.6 1187.5,220.0 1195.5,220.4 1203.5,222.8 1211.5,225.1 1219.5,227.6 1227.5,229.5 1235.5,228.9 1243.5,229.8 1251.5,228.6 1259.5,228.7 1267.5,228.1 1275.5,228.6 1283.5,228.5 1291.5,229.5 1299.5,226.6 1307.5,224.1 1315.5,220.6 1323.5,216.3 1331.5,213.1 1339.5,210.0 1347.5,209.8 1355.5,207.8 1363.5,205.9 1371.5,203.4 1379.5,201.9 1387.5,200.3 1395.5,200.8 1403.5,200.0 1411.5,200.5" fill="none" stroke="#3cb371" stroke-width="1" clip-path="url(#cm)"/>
<polyline points="-4.5,228.8 3.5,228.8 11.5,228.0 19.5,230.8 27.5,234.0 35.5,234.3 43.5,235.0 51.5,237.2 59.5,237.4 67.5,236.3 75.5,234.1 83.5,235.0 91.5,236.7 99.5,239.5 107.5,242.7 115.5,245.1 123.5,246.6 131.5,246.6 139.5,245.4 147.5,244.3 155.5,246.1 163.5,246.3 171.5,246.4 179.5,245.7 187.5,245.3 195.5,259.5 203.5,267.9 211.5,273.4 219.5,277.3 227.5,279.0 235.5,279.2 243.5,278.8 251.5,278.6 259.5,277.9 267.5,275.7 275.5,276.6 283.5,277.4 291.5,278.0 299.5,279.3 307.5,282.3 315.5,284.3 323.5,286.0 331.5,287.6 339.5,287.9 347.5,287.9 355.5,274.5 363.5,259.8 371.5,247.0 379.5,231.9 387.5,216.5 395.5,203.7 403.5,195.8 411.5,193.2 419.5,221.7 427.5,243.8 435.5,280.8 443.5,298.8 451.5,316.5 459.5,327.9 467.5,367.3 475.5,394.2 483.5,426.7 491.5,457.4 499.5,491.5 507.5,515.8 515.5,540.0 523.5,575.6 531.5,586.6 539.5,592.8 547.5,592.7 555.5,588.6 563.5,576.8 571.5,557.4 579.5,553.2 587.5,548.8 595.5,548.0 603.5,543.1 611.5,543.7 619.5,534.5 627.5,538.2 635.5,539.9 643.5,541.4 651.5,540.9 659.5,543.9 667.5,544.5 675.5,540.4 683.5,517.0 691.5,509.3 699.5,502.7 707.5,496.1 715.5,493.2 723.5,501.5 731.5,504.6 739.5,505.8 747.5,506.7 755.5,505.1 763.5,502.9 771.5,496.0 779.5,489.8 787.5,482.1 795.5,474.7 803.5,467.6 811.5,466.3 819.5,464.6 827.5,465.8 835.5,467.2 843.5,467.1 851.5,467.8 859.5,463.7 867.5,462.3 875.5,458.1 883.5,439.9 891.5,428.8 899.5,419.9 907.5,405.1 915.5,395.4 923.5,378.1 931.5,372.7 939.5,367.4 947.5,364.6 955.5,361.6 963.5,355.3 971.5,353.4 979.5,350.9 987.5,349.2 995.5,346.7 1003.5,335.0 1011.5,337.9 1019.5,336.1 1027.5,340.3 1035.5,345.0 1043.5,356.0 1051.5,359.6 1059.5,361.1 1067.5,361.3 1075.5,357.7 1083.5,348.9 1091.5,338.4 1099.5,326.5 1107.5,323.0 1115.5,317.0 1123.5,309.9 1131.5,303.6 1139.5,299.6 1147.5,289.7 1155.5,278.6 1163.5,267.4 1171.5,269.6 1179.5,273.0 1187.5,272.3 1195.5,272.8 1203.5,269.9 1211.5,269.9 1219.5,268.7 1227.5,267.1 1235.5,268.3 1243.5,267.9 1251.5,267.2 1259.5,267.1 1267.5,267.1 1275.5,267.4 1283.5,267.4 1291.5,266.3 1299.5,262.1 1307.5,265.5 1315.5,263.6 1323.5,265.4 1331.5,258.7 1339.5,249.3 1347.5,249.1 1355.5,247.9 1363.5,247.5 1371.5,243.5 1379.5,239.3 1387.5,235.5 1395.5,235.8 1403.5,233.6 1411.5,235.0" fill="none" stroke="#3cb371" stroke-width="1" clip-path="url(#cm)"/>
<rect x="972.5" y="158.5" width="61" height="18" fill="#fff" stroke="#ff0000"/>
<text x="974" y="174" font-size="16" font-family="'Liberation Sans', 'Noto Sans CJK SC', sans-serif" fill="#ff0000">29190.7</text>
<rect x="1033" y="167" width="11" height="1" fill="#ff0000"/>
<rect x="1043" y="167" width="1" height="2" fill="#ff0000"/>
<rect x="932.5" y="193.5" width="61" height="18" fill="#fff" stroke="#ff0000"/>
<text x="934" y="209" font-size="16" font-family="'Liberation Sans', 'Noto Sans CJK SC', sans-serif" fill="#ff0000">29015.2</text>
<rect x="994.5" y="200.5" width="2" height="3" fill="#fff" stroke="#ff0000"/>
<rect x="997" y="202" width="7" height="1" fill="#ff0000"/>
<rect x="1116.5" y="284.5" width="61" height="18" fill="#fff" stroke="#ff0000"/>
<text x="1118" y="300" font-size="16" font-family="'Liberation Sans', 'Noto Sans CJK SC', sans-serif" fill="#ff0000">28562.2</text>
<rect x="1178.5" y="291.5" width="2" height="3" fill="#fff" stroke="#ff0000"/>
<rect x="1181" y="293" width="6" height="1" fill="#ff0000"/>
<rect x="444.5" y="572.5" width="61" height="18" fill="#fff" stroke="#ff0000"/>
<text x="446" y="588" font-size="16" font-family="'Liberation Sans', 'Noto Sans CJK SC', sans-serif" fill="#ff0000">27122.5</text>
<rect x="506" y="581" width="10" height="1" fill="#ff0000"/>
<rect x="1252.5" y="142.5" width="61" height="18" fill="#fff" stroke="#ff0000"/>
<text x="1254" y="158" font-size="16" font-family="'Liberation Sans', 'Noto Sans CJK SC', sans-serif" fill="#ff0000">29269.8</text>
<rect x="1314" y="151" width="10" height="1" fill="#ff0000"/>
<g clip-path="url(#cm)"><rect x="3" y="190" width="1" height="18" fill="#000"/><rect x="1" y="198" width="5" height="1" fill="#000"/><rect x="11" y="194" width="1" height="23" fill="#000"/><rect x="9" y="197" width="5" height="7" fill="#000"/><rect x="19" y="203" width="1" height="24" fill="#000"/><rect x="17" y="203" width="5" height="14" fill="#000"/><rect x="27" y="209" width="1" height="12" fill="#000"/><rect x="25.5" y="215.5" width="4" height="2" fill="#fff" stroke="#000"/><rect x="35" y="201" width="1" height="32" fill="#000"/><rect x="33.5" y="204.5" width="4" height="11" fill="#fff" stroke="#000"/><rect x="43" y="176" width="1" height="30" fill="#000"/><rect x="41.5" y="179.5" width="4" height="23" fill="#fff" stroke="#000"/><rect x="51" y="169" width="1" height="56" fill="#000"/><rect x="49" y="180" width="5" height="42" fill="#000"/><rect x="59" y="189" width="1" height="49" fill="#000"/><rect x="57.5" y="193.5" width="4" height="29" fill="#fff" stroke="#000"/><rect x="67" y="191" width="1" height="9" fill="#000"/><rect x="65" y="194" width="5" height="4" fill="#000"/><rect x="75" y="208" width="1" height="24" fill="#000"/><rect x="73.5" y="208.5" width="4" height="3" fill="#fff" stroke="#000"/><rect x="83" y="197" width="1" height="34" fill="#000"/><rect x="81" y="208" width="5" height="20" fill="#000"/><rect x="91" y="219" width="1" height="37" fill="#000"/><rect x="89" y="226" width="5" height="16" fill="#000"/><rect x="99" y="215" width="1" height="30" fill="#000"/><rect x="97.5" y="225.5" width="4" height="15" fill="#fff" stroke="#000"/><rect x="107" y="221" width="1" height="23" fill="#000"/><rect x="105" y="224" width="5" height="15" fill="#000"/><rect x="115" y="234" width="1" height="16" fill="#000"/><rect x="113" y="237" width="5" height="3" fill="#000"/><rect x="123" y="220" width="1" height="12" fill="#000"/><rect x="121.5" y="220.5" width="4" height="7" fill="#fff" stroke="#000"/><rect x="131" y="192" width="1" height="30" fill="#000"/><rect x="129.5" y="210.5" width="4" height="11" fill="#fff" stroke="#000"/><rect x="139" y="187" width="1" height="33" fill="#000"/><rect x="137.5" y="197.5" width="4" height="12" fill="#fff" stroke="#000"/><rect x="147" y="190" width="1" height="19" fill="#000"/><rect x="145" y="196" width="5" height="5" fill="#000"/><rect x="155" y="181" width="1" height="21" fill="#000"/><rect x="153.5" y="182.5" width="4" height="17" fill="#fff" stroke="#000"/><rect x="163" y="181" width="1" height="19" fill="#000"/><rect x="161" y="181" width="5" height="13" fill="#000"/><rect x="171" y="192" width="1" height="7" fill="#000"/><rect x="169.5" y="194.5" width="4" height="2" fill="#fff" stroke="#000"/><rect x="179" y="186" width="1" height="22" fill="#000"/><rect x="177" y="193" width="5" height="6" fill="#000"/><rect x="187" y="178" width="1" height="27" fill="#000"/><rect x="185.5" y="190.5" width="4" height="6" fill="#fff" stroke="#000"/><rect x="195" y="184" width="1" height="96" fill="#000"/><rect x="193" y="189" width="5" height="88" fill="#000"/><rect x="203" y="267" width="1" height="25" fill="#000"/><rect x="201.5" y="270.5" width="4" height="5" fill="#fff" stroke="#000"/><rect x="211" y="258" width="1" height="18" fill="#000"/><rect x="209.5" y="261.5" width="4" height="10" fill="#fff" stroke="#000"/><rect x="219" y="254" width="1" height="15" fill="#000"/><rect x="217.5" y="254.5" width="4" height="14" fill="#fff" stroke="#000"/><rect x="227" y="233" width="1" height="28" fill="#000"/><rect x="225.5" y="241.5" width="4" height="14" fill="#fff" stroke="#000"/><rect x="235" y="218" width="1" height="36" fill="#000"/><rect x="233.5" y="222.5" width="4" height="19" fill="#fff" stroke="#000"/><rect x="243" y="197" width="1" height="27" fill="#000"/><rect x="241.5" y="200.5" width="4" height="19" fill="#fff" stroke="#000"/><rect x="251" y="172" width="1" height="30" fill="#000"/><rect x="249.5" y="174.5" width="4" height="25" fill="#fff" stroke="#000"/><rect x="259" y="173" width="1" height="28" fill="#000"/><rect x="257" y="173" width="5" height="24" fill="#000"/><rect x="267" y="192" width="1" height="23" fill="#000"/><rect x="265" y="199" width="5" height="3" fill="#000"/><rect x="275" y="119" width="1" height="85" fill="#000"/><rect x="273.5" y="151.5" width="4" height="50" fill="#fff" stroke="#000"/><rect x="283" y="123" width="1" height="45" fill="#000"/><rect x="281" y="150" width="5" height="8" fill="#000"/><rect x="291" y="146" width="1" height="26" fill="#000"/><rect x="289" y="156" width="5" height="6" fill="#000"/><rect x="299" y="140" width="1" height="29" fill="#000"/><rect x="297.5" y="154.5" width="4" height="7" fill="#fff" stroke="#000"/><rect x="307" y="131" width="1" height="28" fill="#000"/><rect x="305.5" y="131.5" width="4" height="23" fill="#fff" stroke="#000"/><rect x="315" y="134" width="1" height="14" fill="#000"/><rect x="313.5" y="138.5" width="4" height="5" fill="#fff" stroke="#000"/><rect x="323" y="116" width="1" height="45" fill="#000"/><rect x="321.5" y="132.5" width="4" height="9" fill="#fff" stroke="#000"/><rect x="331" y="124" width="1" height="17" fill="#000"/><rect x="329.5" y="125.5" width="4" height="7" fill="#fff" stroke="#000"/><rect x="339" y="125" width="1" height="30" fill="#000"/><rect x="337" y="125" width="5" height="4" fill="#000"/><rect x="347" y="124" width="1" height="17" fill="#000"/><rect x="345" y="127" width="5" height="5" fill="#000"/><rect x="355" y="124" width="1" height="8" fill="#000"/><rect x="353.5" y="124.5" width="4" height="6" fill="#fff" stroke="#000"/><rect x="363" y="124" width="1" height="12" fill="#000"/><rect x="361" y="128" width="5" height="1" fill="#000"/><rect x="371" y="68" width="1" height="68" fill="#000"/><rect x="369.5" y="96.5" width="4" height="35" fill="#fff" stroke="#000"/><rect x="379" y="92" width="1" height="19" fill="#000"/><rect x="377" y="97" width="5" height="7" fill="#000"/><rect x="387" y="95" width="1" height="18" fill="#000"/><rect x="385" y="104" width="5" height="8" fill="#000"/><rect x="395" y="98" width="1" height="44" fill="#000"/><rect x="393" y="112" width="5" height="29" fill="#000"/><rect x="403" y="134" width="1" height="27" fill="#000"/><rect x="401" y="140" width="5" height="14" fill="#000"/><rect x="411" y="152" width="1" height="15" fill="#000"/><rect x="409" y="156" width="5" height="1" fill="#000"/><rect x="419" y="146" width="1" height="142" fill="#000"/><rect x="417" y="158" width="5" height="121" fill="#000"/><rect x="427" y="266" width="1" height="40" fill="#000"/><rect x="425" y="278" width="5" height="5" fill="#000"/><rect x="435" y="283" width="1" height="75" fill="#000"/><rect x="433" y="283" width="5" height="46" fill="#000"/><rect x="443" y="279" width="1" height="59" fill="#000"/><rect x="441.5" y="284.5" width="4" height="44" fill="#fff" stroke="#000"/><rect x="451" y="276" width="1" height="22" fill="#000"/><rect x="449" y="283" width="5" height="10" fill="#000"/><rect x="459" y="268" width="1" height="28" fill="#000"/><rect x="457.5" y="268.5" width="4" height="15" fill="#fff" stroke="#000"/><rect x="467" y="240" width="1" height="164" fill="#000"/><rect x="465" y="265" width="5" height="132" fill="#000"/><rect x="475" y="342" width="1" height="91" fill="#000"/><rect x="473.5" y="373.5" width="4" height="23" fill="#fff" stroke="#000"/><rect x="483" y="364" width="1" height="52" fill="#000"/><rect x="481" y="374" width="5" height="42" fill="#000"/><rect x="491" y="390" width="1" height="54" fill="#000"/><rect x="489" y="414" width="5" height="18" fill="#000"/><rect x="499" y="429" width="1" height="48" fill="#000"/><rect x="497" y="430" width="5" height="39" fill="#000"/><rect x="507" y="445" width="1" height="17" fill="#000"/><rect x="505" y="448" width="5" height="1" fill="#000"/><rect x="515" y="447" width="1" height="55" fill="#000"/><rect x="513" y="450" width="5" height="22" fill="#000"/><rect x="523" y="461" width="1" height="120" fill="#000"/><rect x="521" y="472" width="5" height="76" fill="#000"/><rect x="531" y="471" width="1" height="81" fill="#000"/><rect x="529.5" y="472.5" width="4" height="74" fill="#fff" stroke="#000"/><rect x="539" y="464" width="1" height="51" fill="#000"/><rect x="537" y="471" width="5" height="1" fill="#000"/><rect x="547" y="457" width="1" height="20" fill="#000"/><rect x="545.5" y="462.5" width="4" height="8" fill="#fff" stroke="#000"/><rect x="555" y="434" width="1" height="25" fill="#000"/><rect x="553.5" y="446.5" width="4" height="1" fill="#fff" stroke="#000"/><rect x="563" y="398" width="1" height="66" fill="#000"/><rect x="561.5" y="408.5" width="4" height="42" fill="#fff" stroke="#000"/><rect x="571" y="379" width="1" height="41" fill="#000"/><rect x="569.5" y="398.5" width="4" height="7" fill="#fff" stroke="#000"/><rect x="579" y="365" width="1" height="45" fill="#000"/><rect x="577.5" y="365.5" width="4" height="32" fill="#fff" stroke="#000"/><rect x="587" y="344" width="1" height="27" fill="#000"/><rect x="585.5" y="344.5" width="4" height="20" fill="#fff" stroke="#000"/><rect x="595" y="342" width="1" height="12" fill="#000"/><rect x="593" y="344" width="5" height="3" fill="#000"/><rect x="603" y="338" width="1" height="20" fill="#000"/><rect x="601.5" y="341.5" width="4" height="8" fill="#fff" stroke="#000"/><rect x="611" y="339" width="1" height="145" fill="#000"/><rect x="609" y="342" width="5" height="131" fill="#000"/><rect x="619" y="433" width="1" height="46" fill="#000"/><rect x="617.5" y="463.5" width="4" height="8" fill="#fff" stroke="#000"/><rect x="627" y="449" width="1" height="33" fill="#000"/><rect x="625" y="463" width="5" height="2" fill="#000"/><rect x="635" y="454" width="1" height="24" fill="#000"/><rect x="633.5" y="460.5" width="4" height="1" fill="#fff" stroke="#000"/><rect x="643" y="445" width="1" height="18" fill="#000"/><rect x="641.5" y="449.5" width="4" height="12" fill="#fff" stroke="#000"/><rect x="651" y="412" width="1" height="36" fill="#000"/><rect x="649.5" y="415.5" width="4" height="27" fill="#fff" stroke="#000"/><rect x="659" y="310" width="1" height="100" fill="#000"/><rect x="657.5" y="318.5" width="4" height="91" fill="#fff" stroke="#000"/><rect x="667" y="310" width="1" height="36" fill="#000"/><rect x="665" y="319" width="5" height="19" fill="#000"/><rect x="675" y="333" width="1" height="36" fill="#000"/><rect x="673" y="337" width="5" height="10" fill="#000"/><rect x="683" y="342" width="1" height="34" fill="#000"/><rect x="681" y="346" width="5" height="26" fill="#000"/><rect x="691" y="362" width="1" height="37" fill="#000"/><rect x="689" y="373" width="5" height="25" fill="#000"/><rect x="699" y="382" width="1" height="43" fill="#000"/><rect x="697" y="383" width="5" height="39" fill="#000"/><rect x="707" y="364" width="1" height="77" fill="#000"/><rect x="705.5" y="408.5" width="4" height="11" fill="#fff" stroke="#000"/><rect x="715" y="398" width="1" height="52" fill="#000"/><rect x="713" y="407" width="5" height="16" fill="#000"/><rect x="723" y="420" width="1" height="69" fill="#000"/><rect x="721" y="423" width="5" height="48" fill="#000"/><rect x="731" y="403" width="1" height="71" fill="#000"/><rect x="729.5" y="436.5" width="4" height="34" fill="#fff" stroke="#000"/><rect x="739" y="414" width="1" height="37" fill="#000"/><rect x="737.5" y="416.5" width="4" height="18" fill="#fff" stroke="#000"/><rect x="747" y="427" width="1" height="18" fill="#000"/><rect x="745" y="428" width="5" height="4" fill="#000"/><rect x="755" y="373" width="1" height="78" fill="#000"/><rect x="753.5" y="400.5" width="4" height="32" fill="#fff" stroke="#000"/><rect x="763" y="372" width="1" height="62" fill="#000"/><rect x="761" y="400" width="5" height="16" fill="#000"/><rect x="771" y="362" width="1" height="56" fill="#000"/><rect x="769.5" y="368.5" width="4" height="48" fill="#fff" stroke="#000"/><rect x="779" y="343" width="1" height="33" fill="#000"/><rect x="777.5" y="364.5" width="4" height="3" fill="#fff" stroke="#000"/><rect x="787" y="353" width="1" height="17" fill="#000"/><rect x="785.5" y="362.5" width="4" height="3" fill="#fff" stroke="#000"/><rect x="795" y="336" width="1" height="26" fill="#000"/><rect x="793.5" y="349.5" width="4" height="12" fill="#fff" stroke="#000"/><rect x="803" y="325" width="1" height="45" fill="#000"/><rect x="801" y="349" width="5" height="10" fill="#000"/><rect x="811" y="329" width="1" height="32" fill="#000"/><rect x="809.5" y="336.5" width="4" height="23" fill="#fff" stroke="#000"/><rect x="819" y="312" width="1" height="27" fill="#000"/><rect x="817" y="335" width="5" height="1" fill="#000"/><rect x="827" y="323" width="1" height="30" fill="#000"/><rect x="825.5" y="324.5" width="4" height="9" fill="#fff" stroke="#000"/><rect x="835" y="320" width="1" height="15" fill="#000"/><rect x="833" y="323" width="5" height="5" fill="#000"/><rect x="843" y="330" width="1" height="34" fill="#000"/><rect x="841" y="336" width="5" height="24" fill="#000"/><rect x="851" y="288" width="1" height="78" fill="#000"/><rect x="849.5" y="319.5" width="4" height="46" fill="#fff" stroke="#000"/><rect x="859" y="317" width="1" height="25" fill="#000"/><rect x="857" y="318" width="5" height="17" fill="#000"/><rect x="867" y="305" width="1" height="31" fill="#000"/><rect x="865.5" y="309.5" width="4" height="26" fill="#fff" stroke="#000"/><rect x="875" y="300" width="1" height="18" fill="#000"/><rect x="873.5" y="301.5" width="4" height="6" fill="#fff" stroke="#000"/><rect x="883" y="300" width="1" height="12" fill="#000"/><rect x="881" y="300" width="5" height="6" fill="#000"/><rect x="891" y="282" width="1" height="22" fill="#000"/><rect x="889.5" y="294.5" width="4" height="9" fill="#fff" stroke="#000"/><rect x="899" y="291" width="1" height="29" fill="#000"/><rect x="897" y="300" width="5" height="1" fill="#000"/><rect x="907" y="285" width="1" height="25" fill="#000"/><rect x="905.5" y="290.5" width="4" height="10" fill="#fff" stroke="#000"/><rect x="915" y="284" width="1" height="24" fill="#000"/><rect x="913" y="290" width="5" height="14" fill="#000"/><rect x="923" y="301" width="1" height="34" fill="#000"/><rect x="921" y="302" width="5" height="25" fill="#000"/><rect x="931" y="325" width="1" height="11" fill="#000"/><rect x="929" y="326" width="5" height="1" fill="#000"/><rect x="939" y="318" width="1" height="13" fill="#000"/><rect x="937" y="321" width="5" height="5" fill="#000"/><rect x="947" y="263" width="1" height="67" fill="#000"/><rect x="945.5" y="274.5" width="4" height="52" fill="#fff" stroke="#000"/><rect x="955" y="270" width="1" height="25" fill="#000"/><rect x="953" y="274" width="5" height="14" fill="#000"/><rect x="963" y="279" width="1" height="21" fill="#000"/><rect x="961" y="288" width="5" height="1" fill="#000"/><rect x="971" y="280" width="1" height="10" fill="#000"/><rect x="969.5" y="282.5" width="4" height="7" fill="#fff" stroke="#000"/><rect x="979" y="279" width="1" height="10" fill="#000"/><rect x="977" y="284" width="5" height="1" fill="#000"/><rect x="987" y="288" width="1" height="11" fill="#000"/><rect x="985" y="290" width="5" height="4" fill="#000"/><rect x="995" y="289" width="1" height="47" fill="#000"/><rect x="993" y="297" width="5" height="5" fill="#000"/><rect x="1003" y="288" width="1" height="28" fill="#000"/><rect x="1001.5" y="292.5" width="4" height="7" fill="#fff" stroke="#000"/><rect x="1011" y="241" width="1" height="52" fill="#000"/><rect x="1009.5" y="248.5" width="4" height="43" fill="#fff" stroke="#000"/><rect x="1019" y="241" width="1" height="15" fill="#000"/><rect x="1017.5" y="246.5" width="4" height="1" fill="#fff" stroke="#000"/><rect x="1027" y="228" width="1" height="23" fill="#000"/><rect x="1025.5" y="228.5" width="4" height="16" fill="#fff" stroke="#000"/><rect x="1035" y="211" width="1" height="17" fill="#000"/><rect x="1033.5" y="216.5" width="4" height="11" fill="#fff" stroke="#000"/><rect x="1043" y="167" width="1" height="55" fill="#000"/><rect x="1041.5" y="170.5" width="4" height="44" fill="#fff" stroke="#000"/><rect x="1051" y="170" width="1" height="32" fill="#000"/><rect x="1049" y="171" width="5" height="19" fill="#000"/><rect x="1059" y="180" width="1" height="11" fill="#000"/><rect x="1057.5" y="185.5" width="4" height="2" fill="#fff" stroke="#000"/><rect x="1067" y="176" width="1" height="20" fill="#000"/><rect x="1065" y="185" width="5" height="6" fill="#000"/><rect x="1075" y="191" width="1" height="13" fill="#000"/><rect x="1073" y="191" width="5" height="13" fill="#000"/><rect x="1083" y="186" width="1" height="22" fill="#000"/><rect x="1081" y="198" width="5" height="9" fill="#000"/><rect x="1091" y="176" width="1" height="66" fill="#000"/><rect x="1089" y="203" width="5" height="35" fill="#000"/><rect x="1099" y="200" width="1" height="48" fill="#000"/><rect x="1097.5" y="210.5" width="4" height="26" fill="#fff" stroke="#000"/><rect x="1107" y="207" width="1" height="17" fill="#000"/><rect x="1105" y="209" width="5" height="15" fill="#000"/><rect x="1115" y="219" width="1" height="16" fill="#000"/><rect x="1113.5" y="220.5" width="4" height="1" fill="#fff" stroke="#000"/><rect x="1123" y="218" width="1" height="5" fill="#000"/><rect x="1121" y="221" width="5" height="1" fill="#000"/><rect x="1131" y="197" width="1" height="20" fill="#000"/><rect x="1129.5" y="198.5" width="4" height="15" fill="#fff" stroke="#000"/><rect x="1139" y="189" width="1" height="96" fill="#000"/><rect x="1137" y="204" width="5" height="56" fill="#000"/><rect x="1147" y="220" width="1" height="44" fill="#000"/><rect x="1145.5" y="228.5" width="4" height="31" fill="#fff" stroke="#000"/><rect x="1155" y="213" width="1" height="44" fill="#000"/><rect x="1153" y="227" width="5" height="26" fill="#000"/><rect x="1163" y="241" width="1" height="19" fill="#000"/><rect x="1161.5" y="244.5" width="4" height="7" fill="#fff" stroke="#000"/><rect x="1171" y="241" width="1" height="23" fill="#000"/><rect x="1169" y="243" width="5" height="17" fill="#000"/><rect x="1179" y="263" width="1" height="16" fill="#000"/><rect x="1177.5" y="264.5" width="4" height="1" fill="#fff" stroke="#000"/><rect x="1187" y="204" width="1" height="92" fill="#000"/><rect x="1185.5" y="214.5" width="4" height="50" fill="#fff" stroke="#000"/><rect x="1195" y="212" width="1" height="30" fill="#000"/><rect x="1193" y="213" width="5" height="13" fill="#000"/><rect x="1203" y="215" width="1" height="18" fill="#000"/><rect x="1201.5" y="217.5" width="4" height="6" fill="#fff" stroke="#000"/><rect x="1211" y="215" width="1" height="23" fill="#000"/><rect x="1209" y="217" width="5" height="19" fill="#000"/><rect x="1219" y="228" width="1" height="11" fill="#000"/><rect x="1217" y="235" width="5" height="1" fill="#000"/><rect x="1227" y="224" width="1" height="14" fill="#000"/><rect x="1225.5" y="230.5" width="4" height="7" fill="#fff" stroke="#000"/><rect x="1235" y="176" width="1" height="60" fill="#000"/><rect x="1233.5" y="193.5" width="4" height="35" fill="#fff" stroke="#000"/><rect x="1243" y="188" width="1" height="38" fill="#000"/><rect x="1241" y="192" width="5" height="32" fill="#000"/><rect x="1251" y="210" width="1" height="31" fill="#000"/><rect x="1249.5" y="212.5" width="4" height="10" fill="#fff" stroke="#000"/><rect x="1259" y="204" width="1" height="12" fill="#000"/><rect x="1257" y="213" width="5" height="1" fill="#000"/><rect x="1267" y="206" width="1" height="10" fill="#000"/><rect x="1265" y="212" width="5" height="1" fill="#000"/><rect x="1275" y="212" width="1" height="24" fill="#000"/><rect x="1273" y="214" width="5" height="16" fill="#000"/><rect x="1283" y="209" width="1" height="47" fill="#000"/><rect x="1281.5" y="221.5" width="4" height="5" fill="#fff" stroke="#000"/><rect x="1291" y="209" width="1" height="20" fill="#000"/><rect x="1289.5" y="217.5" width="4" height="2" fill="#fff" stroke="#000"/><rect x="1299" y="192" width="1" height="26" fill="#000"/><rect x="1297.5" y="204.5" width="4" height="13" fill="#fff" stroke="#000"/><rect x="1307" y="176" width="1" height="20" fill="#000"/><rect x="1305.5" y="177.5" width="4" height="18" fill="#fff" stroke="#000"/><rect x="1315" y="176" width="1" height="11" fill="#000"/><rect x="1313" y="176" width="5" height="6" fill="#000"/><rect x="1323" y="152" width="1" height="14" fill="#000"/><rect x="1321.5" y="160.5" width="4" height="3" fill="#fff" stroke="#000"/><rect x="1331" y="153" width="1" height="64" fill="#000"/><rect x="1329" y="162" width="5" height="34" fill="#000"/><rect x="1339" y="192" width="1" height="26" fill="#000"/><rect x="1337" y="199" width="5" height="2" fill="#000"/><rect x="1347" y="192" width="1" height="27" fill="#000"/><rect x="1345" y="204" width="5" height="8" fill="#000"/><rect x="1355" y="175" width="1" height="37" fill="#000"/><rect x="1353.5" y="184.5" width="4" height="25" fill="#fff" stroke="#000"/><rect x="1363" y="177" width="1" height="8" fill="#000"/><rect x="1361.5" y="180.5" width="4" height="3" fill="#fff" stroke="#000"/><rect x="1371" y="176" width="1" height="15" fill="#000"/><rect x="1369" y="177" width="5" height="9" fill="#000"/><rect x="1379" y="165" width="1" height="53" fill="#000"/><rect x="1377" y="188" width="5" height="18" fill="#000"/><rect x="1387" y="196" width="1" height="11" fill="#000"/><rect x="1385.5" y="198.5" width="4" height="7" fill="#fff" stroke="#000"/><rect x="1395" y="191" width="1" height="28" fill="#000"/><rect x="1393" y="198" width="5" height="4" fill="#000"/><rect x="1403" y="200" width="1" height="27" fill="#000"/><rect x="1401" y="200" width="5" height="10" fill="#000"/><rect x="1411" y="205" width="1" height="17" fill="#000"/><rect x="1409" y="208" width="5" height="14" fill="#000"/></g>
<line x1="989" y1="325" x2="1063.9" y2="187.8" stroke="#ff0000" stroke-width="2.9" stroke-linecap="round" shape-rendering="auto"/>
<polygon points="1068.0,180.4 1067.3,191.4 1063.9,187.8 1059.2,186.9" fill="#ff0000" stroke="#ff0000" stroke-width="1.6" stroke-linejoin="round" shape-rendering="auto"/>
<line x1="1068" y1="176" x2="1186.9" y2="282.7" stroke="#ff0000" stroke-width="2.9" stroke-linecap="round" shape-rendering="auto"/>
<polygon points="1193.3,288.3 1182.7,285.1 1186.9,282.7 1188.9,278.2" fill="#ff0000" stroke="#ff0000" stroke-width="1.6" stroke-linejoin="round" shape-rendering="auto"/>
<line x1="1195" y1="297" x2="1337.2" y2="160.1" stroke="#ff0000" stroke-width="2.9" stroke-linecap="round" shape-rendering="auto"/>
<polygon points="1343.3,154.2 1339.3,164.4 1337.2,160.1 1332.9,157.8" fill="#ff0000" stroke="#ff0000" stroke-width="1.6" stroke-linejoin="round" shape-rendering="auto"/>
<line x1="1344" y1="153" x2="1430.4" y2="230.7" stroke="#ff0000" stroke-width="2.9" stroke-linecap="round" shape-rendering="auto"/>
<polygon points="1436.8,236.3 1426.2,233.1 1430.4,230.7 1432.4,226.2" fill="#ff0000" stroke="#ff0000" stroke-width="1.6" stroke-linejoin="round" shape-rendering="auto"/>
<rect x="1147" y="196" width="298" height="8" fill="#00ff00"/>
<text x="1460.5" y="224.8" font-size="19.6" font-weight="300" font-family="'Noto Sans CJK SC', sans-serif" fill="#00ff00" textLength="106" lengthAdjust="spacingAndGlyphs">多空转折点</text>
<text x="2" y="53" font-size="10" font-family="'Liberation Sans', 'Noto Sans CJK SC', sans-serif" fill="#000" textLength="197.0" lengthAdjust="spacingAndGlyphs" style="white-space:pre">JPN225-,H4  28985.0 29000.0 28920.0 28920.0</text>
<defs><linearGradient id="gr" x1="0" y1="0" x2="0" y2="1"><stop offset="0" stop-color="#f75c5c"/><stop offset="1" stop-color="#dc2626"/></linearGradient><linearGradient id="gr2" x1="0" y1="0" x2="0" y2="1"><stop offset="0" stop-color="#da2c2c"/><stop offset="1" stop-color="#b00202"/></linearGradient><linearGradient id="gs" x1="0" y1="0" x2="0" y2="1"><stop offset="0" stop-color="#f0f0f0"/><stop offset="1" stop-color="#d2d2d2"/></linearGradient></defs>
<rect x="0" y="61" width="42" height="25" fill="url(#gr)"/>
<rect x="157" y="61" width="52" height="25" fill="url(#gr)"/>
<rect x="0" y="61" width="42" height="1" fill="#c81010"/>
<rect x="41" y="61" width="1" height="25" fill="#c81010"/>
<rect x="157" y="61" width="52" height="1" fill="#c81010"/>
<rect x="157" y="61" width="1" height="25" fill="#c81010"/>
<rect x="208" y="61" width="1" height="25" fill="#c81010"/>
<rect x="0" y="85" width="99" height="33" fill="url(#gr2)"/>
<rect x="101" y="85" width="108" height="33" fill="url(#gr2)"/>
<rect x="0" y="84" width="38" height="1" fill="#a80000"/>
<rect x="161" y="84" width="44" height="1" fill="#a80000"/>
<rect x="0" y="85" width="38" height="1" fill="#f08a8a"/>
<rect x="161" y="85" width="44" height="1" fill="#f08a8a"/>
<rect x="42" y="61" width="115" height="24" fill="#ffffff"/>
<rect x="44.5" y="61.5" width="110" height="21" fill="#fff" stroke="#a8acb4"/>
<rect x="45.5" y="62.5" width="19" height="19" fill="url(#gs)" stroke="#c4c4c4"/><rect x="134.5" y="62.5" width="19" height="19" fill="url(#gs)" stroke="#c4c4c4"/>
<rect x="65" y="62" width="1" height="20" fill="#d8d8d8"/>
<rect x="133" y="62" width="1" height="20" fill="#d8d8d8"/>
<path d="M52.3 70 H57.7 L55 72.8 Z" fill="#5470c8" shape-rendering="auto"/><path d="M141.3 72.3 H146.7 L144 69.5 Z" fill="#5470c8" shape-rendering="auto"/>
<text x="130" y="76" font-size="12.5" font-family="'Liberation Sans', 'Noto Sans CJK SC', sans-serif" fill="#000" text-anchor="end">1.00</text>
<text x="2.3" y="77.2" font-size="12" font-family="'Liberation Sans', 'Noto Sans CJK SC', sans-serif" fill="#fff" textLength="25.2" lengthAdjust="spacingAndGlyphs">SELL</text>
<text x="170.7" y="77.2" font-size="12" font-family="'Liberation Sans', 'Noto Sans CJK SC', sans-serif" fill="#fff" textLength="23" lengthAdjust="spacingAndGlyphs">BUY</text>
<text x="6.4" y="113" font-size="12" font-weight="bold" font-family="'Liberation Sans', 'Noto Sans CJK SC', sans-serif" fill="#fff" textLength="34" lengthAdjust="spacingAndGlyphs">28918</text>
<text x="116.4" y="113" font-size="12" font-weight="bold" font-family="'Liberation Sans', 'Noto Sans CJK SC', sans-serif" fill="#fff" textLength="34" lengthAdjust="spacingAndGlyphs">28941</text>
<rect x="45.5" y="109" width="3.6" height="3.8" rx="0.8" fill="#fff"/><rect x="155.5" y="109" width="3.6" height="3.8" rx="0.8" fill="#fff"/>
<text x="52.6" y="112.8" font-size="34.5" font-family="'Liberation Sans', 'Noto Sans CJK SC', sans-serif" fill="#fff" textLength="14" lengthAdjust="spacingAndGlyphs">5</text>
<text x="163.6" y="112.8" font-size="34.5" font-family="'Liberation Sans', 'Noto Sans CJK SC', sans-serif" fill="#fff" textLength="14" lengthAdjust="spacingAndGlyphs">5</text>
<path d="M1415 42 H1424 L1419.5 47 Z" fill="#c0c0c0"/>
<g clip-path="url(#cd)"><rect x="3" y="653" width="1" height="5" fill="#c0c0c0"/><rect x="11" y="653" width="1" height="6" fill="#c0c0c0"/><rect x="19" y="653" width="1" height="7" fill="#c0c0c0"/><rect x="27" y="653" width="1" height="8" fill="#c0c0c0"/><rect x="35" y="653" width="1" height="7" fill="#c0c0c0"/><rect x="43" y="653" width="1" height="4" fill="#c0c0c0"/><rect x="51" y="653" width="1" height="6" fill="#c0c0c0"/><rect x="59" y="653" width="1" height="5" fill="#c0c0c0"/><rect x="67" y="653" width="1" height="4" fill="#c0c0c0"/><rect x="75" y="653" width="1" height="4" fill="#c0c0c0"/><rect x="83" y="653" width="1" height="7" fill="#c0c0c0"/><rect x="91" y="653" width="1" height="10" fill="#c0c0c0"/><rect x="99" y="653" width="1" height="10" fill="#c0c0c0"/><rect x="107" y="653" width="1" height="12" fill="#c0c0c0"/><rect x="115" y="653" width="1" height="13" fill="#c0c0c0"/><rect x="123" y="653" width="1" height="12" fill="#c0c0c0"/><rect x="131" y="653" width="1" height="10" fill="#c0c0c0"/><rect x="139" y="653" width="1" height="8" fill="#c0c0c0"/><rect x="147" y="653" width="1" height="6" fill="#c0c0c0"/><rect x="155" y="653" width="1" height="2" fill="#c0c0c0"/><rect x="163" y="652" width="1" height="2" fill="#c0c0c0"/><rect x="171" y="651" width="1" height="3" fill="#c0c0c0"/><rect x="179" y="651" width="1" height="3" fill="#c0c0c0"/><rect x="187" y="650" width="1" height="4" fill="#c0c0c0"/><rect x="195" y="653" width="1" height="5" fill="#c0c0c0"/><rect x="203" y="653" width="1" height="11" fill="#c0c0c0"/><rect x="211" y="653" width="1" height="14" fill="#c0c0c0"/><rect x="219" y="653" width="1" height="16" fill="#c0c0c0"/><rect x="227" y="653" width="1" height="15" fill="#c0c0c0"/><rect x="235" y="653" width="1" height="13" fill="#c0c0c0"/><rect x="243" y="653" width="1" height="9" fill="#c0c0c0"/><rect x="251" y="653" width="1" height="3" fill="#c0c0c0"/><rect x="259" y="653" width="1" height="1" fill="#c0c0c0"/><rect x="267" y="652" width="1" height="2" fill="#c0c0c0"/><rect x="275" y="646" width="1" height="8" fill="#c0c0c0"/><rect x="283" y="642" width="1" height="12" fill="#c0c0c0"/><rect x="291" y="639" width="1" height="15" fill="#c0c0c0"/><rect x="299" y="636" width="1" height="18" fill="#c0c0c0"/><rect x="307" y="632" width="1" height="22" fill="#c0c0c0"/><rect x="315" y="630" width="1" height="24" fill="#c0c0c0"/><rect x="323" y="628" width="1" height="26" fill="#c0c0c0"/><rect x="331" y="625" width="1" height="29" fill="#c0c0c0"/><rect x="339" y="624" width="1" height="30" fill="#c0c0c0"/><rect x="347" y="624" width="1" height="30" fill="#c0c0c0"/><rect x="355" y="624" width="1" height="30" fill="#c0c0c0"/><rect x="363" y="624" width="1" height="30" fill="#c0c0c0"/><rect x="371" y="621" width="1" height="33" fill="#c0c0c0"/><rect x="379" y="621" width="1" height="33" fill="#c0c0c0"/><rect x="387" y="621" width="1" height="33" fill="#c0c0c0"/><rect x="395" y="625" width="1" height="29" fill="#c0c0c0"/><rect x="403" y="629" width="1" height="25" fill="#c0c0c0"/><rect x="411" y="633" width="1" height="21" fill="#c0c0c0"/><rect x="419" y="649" width="1" height="5" fill="#c0c0c0"/><rect x="427" y="653" width="1" height="9" fill="#c0c0c0"/><rect x="435" y="653" width="1" height="24" fill="#c0c0c0"/><rect x="443" y="653" width="1" height="30" fill="#c0c0c0"/><rect x="451" y="653" width="1" height="36" fill="#c0c0c0"/><rect x="459" y="653" width="1" height="37" fill="#c0c0c0"/><rect x="467" y="653" width="1" height="51" fill="#c0c0c0"/><rect x="475" y="653" width="1" height="59" fill="#c0c0c0"/><rect x="483" y="653" width="1" height="69" fill="#c0c0c0"/><rect x="491" y="653" width="1" height="77" fill="#c0c0c0"/><rect x="499" y="653" width="1" height="86" fill="#c0c0c0"/><rect x="507" y="653" width="1" height="91" fill="#c0c0c0"/><rect x="515" y="653" width="1" height="95" fill="#c0c0c0"/><rect x="523" y="653" width="1" height="106" fill="#c0c0c0"/><rect x="531" y="653" width="1" height="105" fill="#c0c0c0"/><rect x="539" y="653" width="1" height="103" fill="#c0c0c0"/><rect x="547" y="653" width="1" height="100" fill="#c0c0c0"/><rect x="555" y="653" width="1" height="94" fill="#c0c0c0"/><rect x="563" y="653" width="1" height="85" fill="#c0c0c0"/><rect x="571" y="653" width="1" height="76" fill="#c0c0c0"/><rect x="579" y="653" width="1" height="65" fill="#c0c0c0"/><rect x="587" y="653" width="1" height="53" fill="#c0c0c0"/><rect x="595" y="653" width="1" height="43" fill="#c0c0c0"/><rect x="603" y="653" width="1" height="35" fill="#c0c0c0"/><rect x="611" y="653" width="1" height="41" fill="#c0c0c0"/><rect x="619" y="653" width="1" height="44" fill="#c0c0c0"/><rect x="627" y="653" width="1" height="47" fill="#c0c0c0"/><rect x="635" y="653" width="1" height="48" fill="#c0c0c0"/><rect x="643" y="653" width="1" height="47" fill="#c0c0c0"/><rect x="651" y="653" width="1" height="42" fill="#c0c0c0"/><rect x="659" y="653" width="1" height="28" fill="#c0c0c0"/><rect x="667" y="653" width="1" height="19" fill="#c0c0c0"/><rect x="675" y="653" width="1" height="13" fill="#c0c0c0"/><rect x="683" y="653" width="1" height="10" fill="#c0c0c0"/><rect x="691" y="653" width="1" height="10" fill="#c0c0c0"/><rect x="699" y="653" width="1" height="13" fill="#c0c0c0"/><rect x="707" y="653" width="1" height="13" fill="#c0c0c0"/><rect x="715" y="653" width="1" height="15" fill="#c0c0c0"/><rect x="723" y="653" width="1" height="21" fill="#c0c0c0"/><rect x="731" y="653" width="1" height="22" fill="#c0c0c0"/><rect x="739" y="653" width="1" height="20" fill="#c0c0c0"/><rect x="747" y="653" width="1" height="21" fill="#c0c0c0"/><rect x="755" y="653" width="1" height="17" fill="#c0c0c0"/><rect x="763" y="653" width="1" height="16" fill="#c0c0c0"/><rect x="771" y="653" width="1" height="10" fill="#c0c0c0"/><rect x="779" y="653" width="1" height="5" fill="#c0c0c0"/><rect x="787" y="653" width="1" height="1" fill="#c0c0c0"/><rect x="795" y="649" width="1" height="5" fill="#c0c0c0"/><rect x="803" y="646" width="1" height="8" fill="#c0c0c0"/><rect x="811" y="642" width="1" height="12" fill="#c0c0c0"/><rect x="819" y="638" width="1" height="16" fill="#c0c0c0"/><rect x="827" y="635" width="1" height="19" fill="#c0c0c0"/><rect x="835" y="633" width="1" height="21" fill="#c0c0c0"/><rect x="843" y="635" width="1" height="19" fill="#c0c0c0"/><rect x="851" y="632" width="1" height="22" fill="#c0c0c0"/><rect x="859" y="632" width="1" height="22" fill="#c0c0c0"/><rect x="867" y="630" width="1" height="24" fill="#c0c0c0"/><rect x="875" y="627" width="1" height="27" fill="#c0c0c0"/><rect x="883" y="626" width="1" height="28" fill="#c0c0c0"/><rect x="891" y="624" width="1" height="30" fill="#c0c0c0"/><rect x="899" y="624" width="1" height="30" fill="#c0c0c0"/><rect x="907" y="623" width="1" height="31" fill="#c0c0c0"/><rect x="915" y="624" width="1" height="30" fill="#c0c0c0"/><rect x="923" y="627" width="1" height="27" fill="#c0c0c0"/><rect x="931" y="630" width="1" height="24" fill="#c0c0c0"/><rect x="939" y="632" width="1" height="22" fill="#c0c0c0"/><rect x="947" y="629" width="1" height="25" fill="#c0c0c0"/><rect x="955" y="629" width="1" height="25" fill="#c0c0c0"/><rect x="963" y="628" width="1" height="26" fill="#c0c0c0"/><rect x="971" y="628" width="1" height="26" fill="#c0c0c0"/><rect x="979" y="628" width="1" height="26" fill="#c0c0c0"/><rect x="987" y="629" width="1" height="25" fill="#c0c0c0"/><rect x="995" y="631" width="1" height="23" fill="#c0c0c0"/><rect x="1003" y="632" width="1" height="22" fill="#c0c0c0"/><rect x="1011" y="629" width="1" height="25" fill="#c0c0c0"/><rect x="1019" y="626" width="1" height="28" fill="#c0c0c0"/><rect x="1027" y="623" width="1" height="31" fill="#c0c0c0"/><rect x="1035" y="619" width="1" height="35" fill="#c0c0c0"/><rect x="1043" y="612" width="1" height="42" fill="#c0c0c0"/><rect x="1051" y="609" width="1" height="45" fill="#c0c0c0"/><rect x="1059" y="607" width="1" height="47" fill="#c0c0c0"/><rect x="1067" y="606" width="1" height="48" fill="#c0c0c0"/><rect x="1075" y="607" width="1" height="47" fill="#c0c0c0"/><rect x="1083" y="609" width="1" height="45" fill="#c0c0c0"/><rect x="1091" y="614" width="1" height="40" fill="#c0c0c0"/><rect x="1099" y="616" width="1" height="38" fill="#c0c0c0"/><rect x="1107" y="619" width="1" height="35" fill="#c0c0c0"/><rect x="1115" y="621" width="1" height="33" fill="#c0c0c0"/><rect x="1123" y="623" width="1" height="31" fill="#c0c0c0"/><rect x="1131" y="623" width="1" height="31" fill="#c0c0c0"/><rect x="1139" y="630" width="1" height="24" fill="#c0c0c0"/><rect x="1147" y="632" width="1" height="22" fill="#c0c0c0"/><rect x="1155" y="636" width="1" height="18" fill="#c0c0c0"/><rect x="1163" y="639" width="1" height="15" fill="#c0c0c0"/><rect x="1171" y="643" width="1" height="11" fill="#c0c0c0"/><rect x="1179" y="646" width="1" height="8" fill="#c0c0c0"/><rect x="1187" y="644" width="1" height="10" fill="#c0c0c0"/><rect x="1195" y="644" width="1" height="10" fill="#c0c0c0"/><rect x="1203" y="643" width="1" height="11" fill="#c0c0c0"/><rect x="1211" y="644" width="1" height="10" fill="#c0c0c0"/><rect x="1219" y="645" width="1" height="9" fill="#c0c0c0"/><rect x="1227" y="645" width="1" height="9" fill="#c0c0c0"/><rect x="1235" y="642" width="1" height="12" fill="#c0c0c0"/><rect x="1243" y="642" width="1" height="12" fill="#c0c0c0"/><rect x="1251" y="642" width="1" height="12" fill="#c0c0c0"/><rect x="1259" y="642" width="1" height="12" fill="#c0c0c0"/><rect x="1267" y="641" width="1" height="13" fill="#c0c0c0"/><rect x="1275" y="643" width="1" height="11" fill="#c0c0c0"/><rect x="1283" y="644" width="1" height="10" fill="#c0c0c0"/><rect x="1291" y="644" width="1" height="10" fill="#c0c0c0"/><rect x="1299" y="643" width="1" height="11" fill="#c0c0c0"/><rect x="1307" y="640" width="1" height="14" fill="#c0c0c0"/><rect x="1315" y="638" width="1" height="16" fill="#c0c0c0"/><rect x="1323" y="634" width="1" height="20" fill="#c0c0c0"/><rect x="1331" y="635" width="1" height="19" fill="#c0c0c0"/><rect x="1339" y="636" width="1" height="18" fill="#c0c0c0"/><rect x="1347" y="639" width="1" height="15" fill="#c0c0c0"/><rect x="1355" y="638" width="1" height="16" fill="#c0c0c0"/><rect x="1363" y="637" width="1" height="17" fill="#c0c0c0"/><rect x="1371" y="638" width="1" height="16" fill="#c0c0c0"/><rect x="1379" y="640" width="1" height="14" fill="#c0c0c0"/><rect x="1387" y="641" width="1" height="13" fill="#c0c0c0"/><rect x="1395" y="642" width="1" height="12" fill="#c0c0c0"/><rect x="1403" y="644" width="1" height="10" fill="#c0c0c0"/><rect x="1411" y="647" width="1" height="7" fill="#c0c0c0"/></g>
<polyline points="-5,656.0 3,656.2 11,656.3 19,656.6 27,657.0 35,657.4 43,657.4 51,657.6 59,657.7 67,657.7 75,657.5 83,657.6 91,657.9 99,658.2 107,658.8 115,659.8 123,660.5 131,661.2 139,661.6 147,661.8 155,661.3 163,660.2 171,659.0 179,657.6 187,655.8 195,655.1 203,655.1 211,655.8 219,656.9 227,658.4 235,659.9 243,660.9 251,661.4 259,661.8 267,661.2 275,659.2 283,656.5 291,653.3 299,649.8 307,646.2 315,642.7 323,639.6 331,636.5 339,633.5 347,631.1 355,629.2 363,627.5 371,625.9 379,624.6 387,623.6 395,623.3 403,623.7 411,624.6 419,627.3 427,631.5 435,637.2 443,644.0 451,651.5 459,659.1 467,667.8 475,676.9 483,686.6 491,695.6 499,704.1 507,711.6 515,718.8 523,726.6 531,734.1 539,739.9 547,744.4 555,747.2 563,748.1 571,746.9 579,744.0 587,739.3 595,732.4 603,724.6 611,717.7 619,711.6 627,706.3 635,702.2 643,699.0 651,696.5 659,693.7 667,691.0 675,688.5 683,685.0 691,681.2 699,677.4 707,673.6 715,670.1 723,667.7 731,667.0 739,667.2 747,668.1 755,669.0 763,669.6 771,669.4 779,668.5 787,667.0 795,664.3 803,661.1 811,657.7 819,653.9 827,650.1 835,646.2 843,643.1 851,640.3 859,637.9 867,635.8 875,633.7 883,632.0 891,630.4 899,629.1 907,628.0 915,626.7 923,626.2 931,625.9 939,626.2 947,626.4 955,626.7 963,627.2 971,627.7 979,628.3 987,628.9 995,629.4 1003,629.7 1011,629.3 1019,629.0 1027,628.3 1035,627.3 1043,625.5 1051,623.4 1059,620.9 1067,618.1 1075,615.3 1083,613.1 1091,611.7 1099,610.9 1107,610.8 1115,611.8 1123,613.4 1131,615.2 1139,617.9 1147,620.6 1155,623.6 1163,626.4 1171,629.4 1179,632.5 1187,635.1 1195,637.4 1203,639.5 1211,641.1 1219,642.6 1227,643.6 1235,643.9 1243,643.9 1251,643.4 1259,643.1 1267,642.8 1275,642.9 1283,642.9 1291,642.7 1299,642.5 1307,642.2 1315,641.7 1323,640.8 1331,640.1 1339,639.5 1347,639.0 1355,638.4 1363,637.7 1371,637.1 1379,637.1 1387,637.5 1395,638.5 1403,639.5 1411,640.7" fill="none" stroke="#ff0000" stroke-width="1" stroke-dasharray="3 3" clip-path="url(#cd)"/>
<line x1="1160" y1="635.5" x2="1404.0" y2="641.3" stroke="#ff0000" stroke-width="2.6" stroke-linecap="round" shape-rendering="auto"/>
<polygon points="1411.0,641.5 1400.9,646.2 1404.0,641.3 1401.1,636.2" fill="#ff0000" stroke="#ff0000" stroke-width="1.6" stroke-linejoin="round" shape-rendering="auto"/>
<line x1="1" y1="804.5" x2="1674" y2="804.5" stroke="#c0c0c0" stroke-dasharray="3 3"/>
<rect x="1674" y="804" width="1" height="1" fill="#fff"/>
<line x1="1" y1="855.5" x2="1674" y2="855.5" stroke="#c0c0c0" stroke-dasharray="3 3"/>
<rect x="1674" y="855" width="1" height="1" fill="#fff"/>
<line x1="1" y1="916.5" x2="1674" y2="916.5" stroke="#c0c0c0" stroke-dasharray="3 3"/>
<rect x="1674" y="916" width="1" height="1" fill="#fff"/>
<polyline points="-4.5,856.5 3.5,858.2 11.5,860.7 19.5,866.2 27.5,865.4 35.5,859.5 43.5,847.6 51.5,865.9 59.5,854.1 67.5,855.9 75.5,860.0 83.5,867.3 91.5,872.1 99.5,864.4 107.5,869.2 115.5,869.5 123.5,860.1 131.5,855.3 139.5,850.2 147.5,851.8 155.5,843.8 163.5,849.8 171.5,850.2 179.5,852.5 187.5,848.4 195.5,881.9 203.5,878.6 211.5,874.1 219.5,870.8 227.5,864.6 235.5,855.9 243.5,847.6 251.5,838.9 259.5,848.6 267.5,850.7 275.5,834.9 283.5,837.8 291.5,839.5 299.5,837.2 307.5,830.5 315.5,833.9 323.5,832.2 331.5,829.9 339.5,832.1 347.5,834.0 355.5,831.2 363.5,833.8 371.5,822.9 379.5,827.7 387.5,833.2 395.5,849.2 403.5,855.3 411.5,856.5 419.5,892.5 427.5,893.1 435.5,900.5 443.5,882.5 451.5,884.2 459.5,875.2 467.5,895.6 475.5,888.5 483.5,893.8 491.5,895.7 499.5,899.8 507.5,893.0 515.5,895.9 523.5,903.7 531.5,883.0 539.5,882.9 547.5,880.5 555.5,876.4 563.5,866.7 571.5,864.5 579.5,856.9 587.5,852.4 595.5,853.0 603.5,851.7 611.5,877.3 619.5,875.0 627.5,875.3 635.5,874.0 643.5,870.8 651.5,861.6 659.5,841.7 667.5,846.2 675.5,848.2 683.5,854.1 691.5,859.6 699.5,864.5 707.5,861.2 715.5,864.4 723.5,873.8 731.5,864.8 739.5,859.9 747.5,863.2 755.5,855.5 763.5,859.2 771.5,848.2 779.5,847.5 787.5,847.0 795.5,844.0 803.5,846.9 811.5,841.4 819.5,841.0 827.5,838.4 835.5,840.0 843.5,851.6 851.5,840.4 859.5,845.7 867.5,839.3 875.5,837.3 883.5,838.9 891.5,836.0 899.5,838.3 907.5,835.5 915.5,841.6 923.5,851.0 931.5,850.9 939.5,850.7 947.5,833.9 955.5,839.7 963.5,840.5 971.5,838.2 979.5,839.0 987.5,844.0 995.5,848.0 1003.5,844.3 1011.5,829.2 1019.5,828.4 1027.5,823.3 1035.5,820.4 1043.5,810.5 1051.5,821.1 1059.5,820.1 1067.5,823.5 1075.5,830.7 1083.5,831.9 1091.5,847.7 1099.5,838.3 1107.5,844.4 1115.5,843.2 1123.5,843.5 1131.5,835.4 1139.5,861.4 1147.5,850.4 1155.5,858.6 1163.5,855.7 1171.5,860.8 1179.5,862.3 1187.5,845.6 1195.5,849.6 1203.5,847.1 1211.5,853.8 1219.5,853.7 1227.5,851.7 1235.5,839.6 1243.5,851.8 1251.5,847.9 1259.5,848.0 1267.5,847.6 1275.5,855.2 1283.5,851.6 1291.5,850.0 1299.5,845.0 1307.5,835.7 1315.5,838.2 1323.5,830.9 1331.5,848.1 1339.5,850.3 1347.5,854.7 1355.5,844.5 1363.5,842.9 1371.5,846.2 1379.5,854.8 1387.5,851.6 1395.5,853.5 1403.5,857.1 1411.5,862.7" fill="none" stroke="#1e90ff" stroke-width="1" clip-path="url(#cr)"/>
<line x1="1169.5" y1="850" x2="1397.0" y2="852.4" stroke="#ff0000" stroke-width="2.6" stroke-linecap="round" shape-rendering="auto"/>
<polygon points="1404.0,852.5 1393.9,857.4 1397.0,852.4 1394.1,847.4" fill="#ff0000" stroke="#ff0000" stroke-width="1.6" stroke-linejoin="round" shape-rendering="auto"/>
<rect x="0" y="41" width="1675" height="1" fill="#000"/>
<rect x="0" y="594" width="1675" height="1" fill="#000"/>
<rect x="1674" y="41" width="1" height="554" fill="#000"/>
<rect x="0" y="596" width="1675" height="1" fill="#000"/>
<rect x="0" y="766" width="1675" height="1" fill="#000"/>
<rect x="1674" y="596" width="1" height="171" fill="#000"/>
<rect x="0" y="768" width="1675" height="1" fill="#000"/>
<rect x="0" y="942" width="1675" height="1" fill="#000"/>
<rect x="1674" y="768" width="1" height="175" fill="#000"/>
<rect x="1675" y="63" width="2" height="1" fill="#000"/>
<text x="1680" y="67" font-size="10" font-family="'Liberation Sans', 'Noto Sans CJK SC', sans-serif" fill="#000" textLength="32" lengthAdjust="spacingAndGlyphs">29713.0</text>
<rect x="1675" y="96" width="2" height="1" fill="#000"/>
<text x="1680" y="100" font-size="10" font-family="'Liberation Sans', 'Noto Sans CJK SC', sans-serif" fill="#000" textLength="32" lengthAdjust="spacingAndGlyphs">29546.5</text>
<rect x="1675" y="129" width="2" height="1" fill="#000"/>
<text x="1680" y="133" font-size="10" font-family="'Liberation Sans', 'Noto Sans CJK SC', sans-serif" fill="#000" textLength="32" lengthAdjust="spacingAndGlyphs">29380.0</text>
<rect x="1675" y="162" width="2" height="1" fill="#000"/>
<text x="1680" y="166" font-size="10" font-family="'Liberation Sans', 'Noto Sans CJK SC', sans-serif" fill="#000" textLength="32" lengthAdjust="spacingAndGlyphs">29218.0</text>
<rect x="1675" y="195" width="2" height="1" fill="#000"/>
<text x="1680" y="199" font-size="10" font-family="'Liberation Sans', 'Noto Sans CJK SC', sans-serif" fill="#000" textLength="32" lengthAdjust="spacingAndGlyphs">29051.5</text>
<rect x="1675" y="228" width="2" height="1" fill="#000"/>
<text x="1680" y="232" font-size="10" font-family="'Liberation Sans', 'Noto Sans CJK SC', sans-serif" fill="#000" textLength="32" lengthAdjust="spacingAndGlyphs">28885.0</text>
<rect x="1675" y="261" width="2" height="1" fill="#000"/>
<text x="1680" y="265" font-size="10" font-family="'Liberation Sans', 'Noto Sans CJK SC', sans-serif" fill="#000" textLength="32" lengthAdjust="spacingAndGlyphs">28723.0</text>
<rect x="1675" y="294" width="2" height="1" fill="#000"/>
<text x="1680" y="298" font-size="10" font-family="'Liberation Sans', 'Noto Sans CJK SC', sans-serif" fill="#000" textLength="32" lengthAdjust="spacingAndGlyphs">28556.5</text>
<rect x="1675" y="327" width="2" height="1" fill="#000"/>
<text x="1680" y="331" font-size="10" font-family="'Liberation Sans', 'Noto Sans CJK SC', sans-serif" fill="#000" textLength="32" lengthAdjust="spacingAndGlyphs">28390.0</text>
<rect x="1675" y="361" width="2" height="1" fill="#000"/>
<text x="1680" y="365" font-size="10" font-family="'Liberation Sans', 'Noto Sans CJK SC', sans-serif" fill="#000" textLength="32" lengthAdjust="spacingAndGlyphs">28223.5</text>
<rect x="1675" y="393" width="2" height="1" fill="#000"/>
<text x="1680" y="397" font-size="10" font-family="'Liberation Sans', 'Noto Sans CJK SC', sans-serif" fill="#000" textLength="32" lengthAdjust="spacingAndGlyphs">28061.5</text>
<rect x="1675" y="426" width="2" height="1" fill="#000"/>
<text x="1680" y="430" font-size="10" font-family="'Liberation Sans', 'Noto Sans CJK SC', sans-serif" fill="#000" textLength="32" lengthAdjust="spacingAndGlyphs">27895.0</text>
<rect x="1675" y="460" width="2" height="1" fill="#000"/>
<text x="1680" y="464" font-size="10" font-family="'Liberation Sans', 'Noto Sans CJK SC', sans-serif" fill="#000" textLength="32" lengthAdjust="spacingAndGlyphs">27728.5</text>
<rect x="1675" y="492" width="2" height="1" fill="#000"/>
<text x="1680" y="496" font-size="10" font-family="'Liberation Sans', 'Noto Sans CJK SC', sans-serif" fill="#000" textLength="32" lengthAdjust="spacingAndGlyphs">27566.5</text>
<rect x="1675" y="525" width="2" height="1" fill="#000"/>
<text x="1680" y="529" font-size="10" font-family="'Liberation Sans', 'Noto Sans CJK SC', sans-serif" fill="#000" textLength="32" lengthAdjust="spacingAndGlyphs">27400.0</text>
<rect x="1675" y="559" width="2" height="1" fill="#000"/>
<text x="1680" y="563" font-size="10" font-family="'Liberation Sans', 'Noto Sans CJK SC', sans-serif" fill="#000" textLength="32" lengthAdjust="spacingAndGlyphs">27233.5</text>
<rect x="1675" y="591" width="2" height="1" fill="#000"/>
<text x="1680" y="595" font-size="10" font-family="'Liberation Sans', 'Noto Sans CJK SC', sans-serif" fill="#000" textLength="32" lengthAdjust="spacingAndGlyphs">27071.5</text>
<rect x="1676" y="131" width="42" height="10" fill="#ff0000"/>
<text x="1679" y="140" font-size="10" font-family="'Liberation Sans', 'Noto Sans CJK SC', sans-serif" fill="#fff" textLength="33" lengthAdjust="spacingAndGlyphs">29345.3</text>
<rect x="1676" y="171" width="42" height="10" fill="#ff0000"/>
<text x="1679" y="180" font-size="10" font-family="'Liberation Sans', 'Noto Sans CJK SC', sans-serif" fill="#fff" textLength="33" lengthAdjust="spacingAndGlyphs">29145.0</text>
<rect x="1676" y="197" width="42" height="10" fill="#32cd32"/>
<text x="1679" y="206" font-size="10" font-family="'Liberation Sans', 'Noto Sans CJK SC', sans-serif" fill="#fff" textLength="33" lengthAdjust="spacingAndGlyphs">29015.2</text>
<rect x="1676" y="216" width="42" height="10" fill="#000000"/>
<text x="1679" y="225" font-size="10" font-family="'Liberation Sans', 'Noto Sans CJK SC', sans-serif" fill="#fff" textLength="33" lengthAdjust="spacingAndGlyphs">28920.0</text>
<rect x="1676" y="240" width="42" height="10" fill="#0000ff"/>
<text x="1679" y="249" font-size="10" font-family="'Liberation Sans', 'Noto Sans CJK SC', sans-serif" fill="#fff" textLength="33" lengthAdjust="spacingAndGlyphs">28800.5</text>
<rect x="1676" y="274" width="42" height="10" fill="#0000ff"/>
<text x="1679" y="283" font-size="10" font-family="'Liberation Sans', 'Noto Sans CJK SC', sans-serif" fill="#fff" textLength="33" lengthAdjust="spacingAndGlyphs">28630.7</text>
<rect x="1675" y="598" width="2" height="1" fill="#000"/>
<rect x="1675" y="653" width="2" height="1" fill="#000"/>
<rect x="1675" y="765" width="2" height="1" fill="#000"/>
<text x="1678" y="607" font-size="10" font-family="'Liberation Sans', 'Noto Sans CJK SC', sans-serif" fill="#000" textLength="27.5" lengthAdjust="spacingAndGlyphs" style="white-space:pre">219.03</text>
<text x="1678" y="657" font-size="10" font-family="'Liberation Sans', 'Noto Sans CJK SC', sans-serif" fill="#000" textLength="17.5" lengthAdjust="spacingAndGlyphs" style="white-space:pre">0.00</text>
<text x="1677" y="763" font-size="10" font-family="'Liberation Sans', 'Noto Sans CJK SC', sans-serif" fill="#000" textLength="30.5" lengthAdjust="spacingAndGlyphs" style="white-space:pre">-449.71</text>
<rect x="1675" y="770" width="2" height="1" fill="#000"/>
<text x="1677" y="779" font-size="10" font-family="'Liberation Sans', 'Noto Sans CJK SC', sans-serif" fill="#000" textLength="15.0" lengthAdjust="spacingAndGlyphs" style="white-space:pre">100</text>
<rect x="1674" y="804" width="1" height="1" fill="#fff"/>
<text x="1677" y="808" font-size="10" font-family="'Liberation Sans', 'Noto Sans CJK SC', sans-serif" fill="#000" textLength="10.0" lengthAdjust="spacingAndGlyphs" style="white-space:pre">80</text>
<rect x="1674" y="855" width="1" height="1" fill="#fff"/>
<text x="1677" y="859" font-size="10" font-family="'Liberation Sans', 'Noto Sans CJK SC', sans-serif" fill="#000" textLength="10.0" lengthAdjust="spacingAndGlyphs" style="white-space:pre">50</text>
<rect x="1674" y="916" width="1" height="1" fill="#fff"/>
<text x="1677" y="920" font-size="10" font-family="'Liberation Sans', 'Noto Sans CJK SC', sans-serif" fill="#000" textLength="10.0" lengthAdjust="spacingAndGlyphs" style="white-space:pre">15</text>
<rect x="1675" y="941" width="2" height="1" fill="#000"/>
<text x="1677" y="939" font-size="10" font-family="'Liberation Sans', 'Noto Sans CJK SC', sans-serif" fill="#000" textLength="5.0" lengthAdjust="spacingAndGlyphs" style="white-space:pre">0</text>
<text x="-8" y="609" font-size="10" font-family="'Liberation Sans', 'Noto Sans CJK SC', sans-serif" fill="#000" textLength="7.7" lengthAdjust="spacingAndGlyphs" style="white-space:pre">M</text>
<text x="0" y="609" font-size="10" font-family="'Liberation Sans', 'Noto Sans CJK SC', sans-serif" fill="#000" textLength="108.3" lengthAdjust="spacingAndGlyphs" style="white-space:pre">ACD(12,26,9) 22.99 49.64</text>
<text x="-9" y="781" font-size="10" font-family="'Liberation Sans', 'Noto Sans CJK SC', sans-serif" fill="#000" textLength="6.7" lengthAdjust="spacingAndGlyphs" style="white-space:pre">R</text>
<text x="-2" y="781" font-size="10" font-family="'Liberation Sans', 'Noto Sans CJK SC', sans-serif" fill="#000" textLength="60.9" lengthAdjust="spacingAndGlyphs" style="white-space:pre">SI(14) 45.8683</text>
<text x="-15" y="956" font-size="10" font-family="'Liberation Sans', 'Noto Sans CJK SC', sans-serif" fill="#000" textLength="51.2" lengthAdjust="spacingAndGlyphs" style="white-space:pre">28 Apr 2021</text>
<rect x="51" y="943" width="1" height="4" fill="#000"/>
<text x="50" y="956" font-size="10" font-family="'Liberation Sans', 'Noto Sans CJK SC', sans-serif" fill="#000" textLength="53.9" lengthAdjust="spacingAndGlyphs" style="white-space:pre">29 Apr 10:55</text>
<rect x="115" y="943" width="1" height="4" fill="#000"/>
<text x="114" y="956" font-size="10" font-family="'Liberation Sans', 'Noto Sans CJK SC', sans-serif" fill="#000" textLength="53.9" lengthAdjust="spacingAndGlyphs" style="white-space:pre">30 Apr 18:55</text>
<rect x="179" y="943" width="1" height="4" fill="#000"/>
<text x="178" y="956" font-size="10" font-family="'Liberation Sans', 'Noto Sans CJK SC', sans-serif" fill="#000" textLength="52.3" lengthAdjust="spacingAndGlyphs" style="white-space:pre">4 May 00:00</text>
<rect x="243" y="943" width="1" height="4" fill="#000"/>
<text x="242" y="956" font-size="10" font-family="'Liberation Sans', 'Noto Sans CJK SC', sans-serif" fill="#000" textLength="52.3" lengthAdjust="spacingAndGlyphs" style="white-space:pre">5 May 10:55</text>
<rect x="307" y="943" width="1" height="4" fill="#000"/>
<text x="306" y="956" font-size="10" font-family="'Liberation Sans', 'Noto Sans CJK SC', sans-serif" fill="#000" textLength="52.3" lengthAdjust="spacingAndGlyphs" style="white-space:pre">6 May 18:55</text>
<rect x="371" y="943" width="1" height="4" fill="#000"/>
<text x="370" y="956" font-size="10" font-family="'Liberation Sans', 'Noto Sans CJK SC', sans-serif" fill="#000" textLength="57.6" lengthAdjust="spacingAndGlyphs" style="white-space:pre">10 May 00:00</text>
<rect x="435" y="943" width="1" height="4" fill="#000"/>
<text x="434" y="956" font-size="10" font-family="'Liberation Sans', 'Noto Sans CJK SC', sans-serif" fill="#000" textLength="56.9" lengthAdjust="spacingAndGlyphs" style="white-space:pre">11 May 10:55</text>
<rect x="499" y="943" width="1" height="4" fill="#000"/>
<text x="498" y="956" font-size="10" font-family="'Liberation Sans', 'Noto Sans CJK SC', sans-serif" fill="#000" textLength="57.6" lengthAdjust="spacingAndGlyphs" style="white-space:pre">12 May 18:55</text>
<rect x="563" y="943" width="1" height="4" fill="#000"/>
<text x="562" y="956" font-size="10" font-family="'Liberation Sans', 'Noto Sans CJK SC', sans-serif" fill="#000" textLength="57.6" lengthAdjust="spacingAndGlyphs" style="white-space:pre">14 May 00:00</text>
<rect x="627" y="943" width="1" height="4" fill="#000"/>
<text x="626" y="956" font-size="10" font-family="'Liberation Sans', 'Noto Sans CJK SC', sans-serif" fill="#000" textLength="57.6" lengthAdjust="spacingAndGlyphs" style="white-space:pre">17 May 10:55</text>
<rect x="691" y="943" width="1" height="4" fill="#000"/>
<text x="690" y="956" font-size="10" font-family="'Liberation Sans', 'Noto Sans CJK SC', sans-serif" fill="#000" textLength="57.6" lengthAdjust="spacingAndGlyphs" style="white-space:pre">18 May 18:55</text>
<rect x="755" y="943" width="1" height="4" fill="#000"/>
<text x="754" y="956" font-size="10" font-family="'Liberation Sans', 'Noto Sans CJK SC', sans-serif" fill="#000" textLength="57.6" lengthAdjust="spacingAndGlyphs" style="white-space:pre">20 May 00:00</text>
<rect x="819" y="943" width="1" height="4" fill="#000"/>
<text x="818" y="956" font-size="10" font-family="'Liberation Sans', 'Noto Sans CJK SC', sans-serif" fill="#000" textLength="57.6" lengthAdjust="spacingAndGlyphs" style="white-space:pre">21 May 10:55</text>
<rect x="883" y="943" width="1" height="4" fill="#000"/>
<text x="882" y="956" font-size="10" font-family="'Liberation Sans', 'Noto Sans CJK SC', sans-serif" fill="#000" textLength="57.6" lengthAdjust="spacingAndGlyphs" style="white-space:pre">24 May 18:55</text>
<rect x="947" y="943" width="1" height="4" fill="#000"/>
<text x="946" y="956" font-size="10" font-family="'Liberation Sans', 'Noto Sans CJK SC', sans-serif" fill="#000" textLength="57.6" lengthAdjust="spacingAndGlyphs" style="white-space:pre">26 May 00:00</text>
<rect x="1011" y="943" width="1" height="4" fill="#000"/>
<text x="1010" y="956" font-size="10" font-family="'Liberation Sans', 'Noto Sans CJK SC', sans-serif" fill="#000" textLength="57.6" lengthAdjust="spacingAndGlyphs" style="white-space:pre">27 May 10:55</text>
<rect x="1075" y="943" width="1" height="4" fill="#000"/>
<text x="1074" y="956" font-size="10" font-family="'Liberation Sans', 'Noto Sans CJK SC', sans-serif" fill="#000" textLength="57.6" lengthAdjust="spacingAndGlyphs" style="white-space:pre">28 May 18:55</text>
<rect x="1139" y="943" width="1" height="4" fill="#000"/>
<text x="1138" y="956" font-size="10" font-family="'Liberation Sans', 'Noto Sans CJK SC', sans-serif" fill="#000" textLength="49.7" lengthAdjust="spacingAndGlyphs" style="white-space:pre">1 Jun 00:00</text>
<rect x="1203" y="943" width="1" height="4" fill="#000"/>
<text x="1202" y="956" font-size="10" font-family="'Liberation Sans', 'Noto Sans CJK SC', sans-serif" fill="#000" textLength="49.7" lengthAdjust="spacingAndGlyphs" style="white-space:pre">2 Jun 10:55</text>
<rect x="1267" y="943" width="1" height="4" fill="#000"/>
<text x="1266" y="956" font-size="10" font-family="'Liberation Sans', 'Noto Sans CJK SC', sans-serif" fill="#000" textLength="49.7" lengthAdjust="spacingAndGlyphs" style="white-space:pre">3 Jun 18:55</text>
<rect x="1331" y="943" width="1" height="4" fill="#000"/>
<text x="1330" y="956" font-size="10" font-family="'Liberation Sans', 'Noto Sans CJK SC', sans-serif" fill="#000" textLength="49.7" lengthAdjust="spacingAndGlyphs" style="white-space:pre">7 Jun 00:00</text>
<rect x="1395" y="943" width="1" height="4" fill="#000"/>
<text x="1394" y="956" font-size="10" font-family="'Liberation Sans', 'Noto Sans CJK SC', sans-serif" fill="#000" textLength="49.7" lengthAdjust="spacingAndGlyphs" style="white-space:pre">8 Jun 09:00</text>
</svg>
</body></html>
